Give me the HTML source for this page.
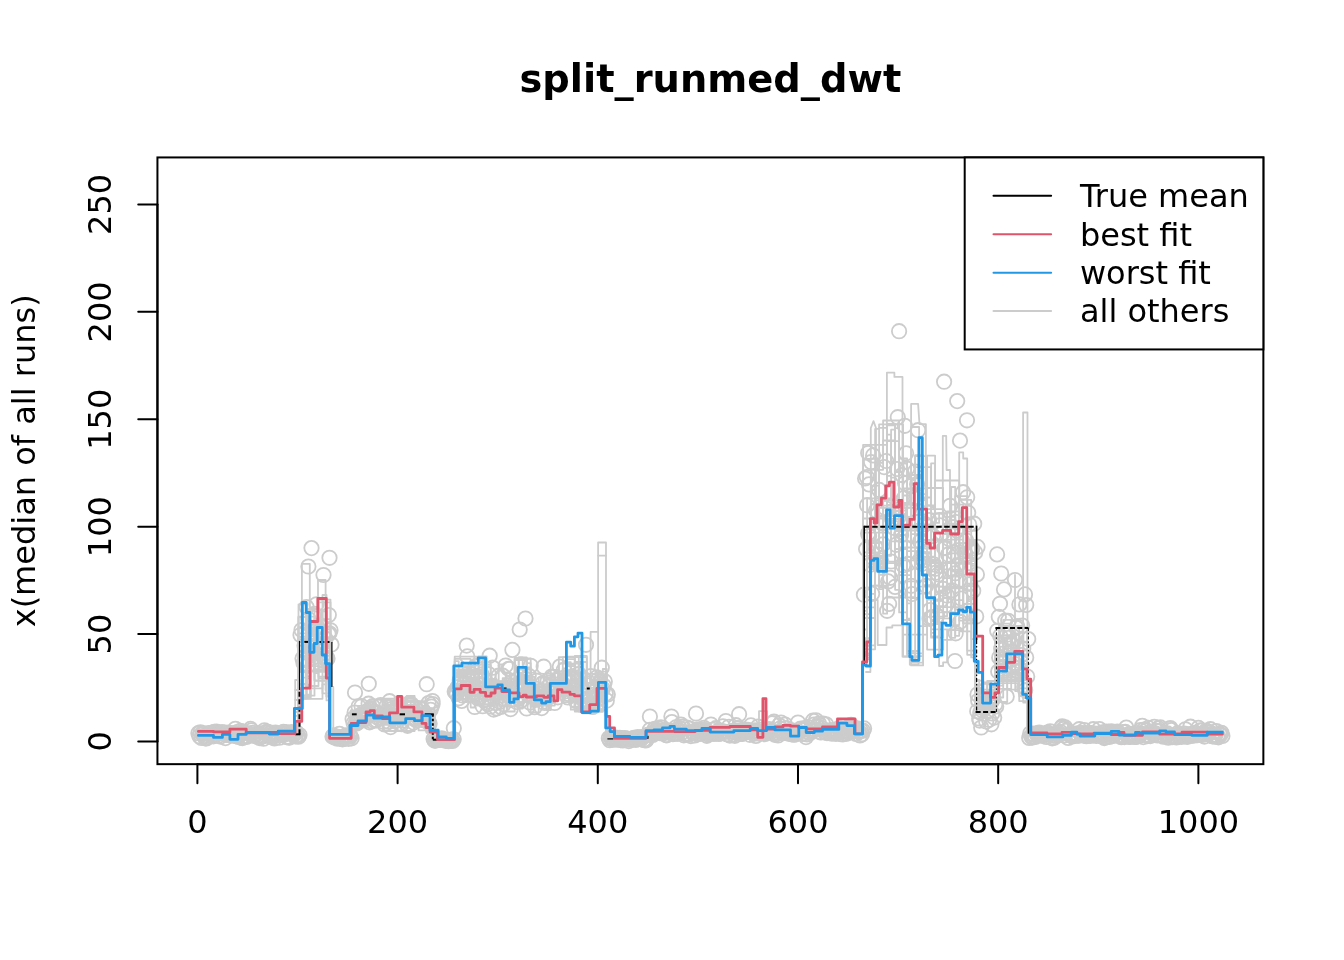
<!DOCTYPE html>
<html><head><meta charset="utf-8"><title>split_runmed_dwt</title>
<style>
html,body{margin:0;padding:0;background:#fff;}
svg{display:block}
text{font-family:"DejaVu Sans","Liberation Sans",sans-serif;fill:#000}
.t{font-size:32px}
.g{fill:none;stroke:#cccccc;stroke-width:1.8;stroke-linejoin:round;stroke-linecap:round}
</style></head><body>
<svg width="1344" height="960" viewBox="0 0 1344 960">
<rect width="1344" height="960" fill="#fff"/>
<g fill="none" stroke="#cccccc" stroke-width="1.8"><circle cx="198.4" cy="733.2" r="7.2"/><circle cx="199.4" cy="736.3" r="7.2"/><circle cx="200.4" cy="732.4" r="7.2"/><circle cx="201.4" cy="738.0" r="7.2"/><circle cx="202.4" cy="733.3" r="7.2"/><circle cx="203.4" cy="733.7" r="7.2"/><circle cx="204.4" cy="735.9" r="7.2"/><circle cx="205.4" cy="738.3" r="7.2"/><circle cx="206.4" cy="738.4" r="7.2"/><circle cx="207.4" cy="737.0" r="7.2"/><circle cx="208.4" cy="733.1" r="7.2"/><circle cx="209.4" cy="734.0" r="7.2"/><circle cx="210.4" cy="733.5" r="7.2"/><circle cx="211.4" cy="736.1" r="7.2"/><circle cx="212.4" cy="732.5" r="7.2"/><circle cx="213.4" cy="736.3" r="7.2"/><circle cx="214.4" cy="731.8" r="7.2"/><circle cx="215.4" cy="732.1" r="7.2"/><circle cx="216.4" cy="731.5" r="7.2"/><circle cx="217.4" cy="732.8" r="7.2"/><circle cx="218.4" cy="735.7" r="7.2"/><circle cx="219.4" cy="733.5" r="7.2"/><circle cx="220.4" cy="736.6" r="7.2"/><circle cx="221.4" cy="732.3" r="7.2"/><circle cx="222.4" cy="732.4" r="7.2"/><circle cx="223.4" cy="733.0" r="7.2"/><circle cx="224.4" cy="732.5" r="7.2"/><circle cx="225.4" cy="738.1" r="7.2"/><circle cx="226.4" cy="734.9" r="7.2"/><circle cx="227.4" cy="735.0" r="7.2"/><circle cx="228.4" cy="732.7" r="7.2"/><circle cx="229.4" cy="734.2" r="7.2"/><circle cx="230.4" cy="733.3" r="7.2"/><circle cx="231.4" cy="735.5" r="7.2"/><circle cx="232.4" cy="733.8" r="7.2"/><circle cx="233.4" cy="735.6" r="7.2"/><circle cx="234.4" cy="733.0" r="7.2"/><circle cx="235.4" cy="728.8" r="7.2"/><circle cx="236.4" cy="736.0" r="7.2"/><circle cx="237.4" cy="732.0" r="7.2"/><circle cx="238.4" cy="736.9" r="7.2"/><circle cx="239.4" cy="735.0" r="7.2"/><circle cx="240.4" cy="730.8" r="7.2"/><circle cx="241.4" cy="737.8" r="7.2"/><circle cx="242.4" cy="738.1" r="7.2"/><circle cx="243.4" cy="731.8" r="7.2"/><circle cx="244.4" cy="732.7" r="7.2"/><circle cx="245.4" cy="736.6" r="7.2"/><circle cx="246.4" cy="737.0" r="7.2"/><circle cx="247.4" cy="736.1" r="7.2"/><circle cx="248.4" cy="733.6" r="7.2"/><circle cx="249.5" cy="734.0" r="7.2"/><circle cx="250.5" cy="728.9" r="7.2"/><circle cx="251.5" cy="730.4" r="7.2"/><circle cx="252.5" cy="732.9" r="7.2"/><circle cx="253.5" cy="735.8" r="7.2"/><circle cx="254.5" cy="734.9" r="7.2"/><circle cx="255.5" cy="734.8" r="7.2"/><circle cx="256.5" cy="733.8" r="7.2"/><circle cx="257.5" cy="736.1" r="7.2"/><circle cx="258.5" cy="733.1" r="7.2"/><circle cx="259.5" cy="738.1" r="7.2"/><circle cx="260.5" cy="736.8" r="7.2"/><circle cx="261.5" cy="735.1" r="7.2"/><circle cx="262.5" cy="736.4" r="7.2"/><circle cx="263.5" cy="738.7" r="7.2"/><circle cx="264.5" cy="730.3" r="7.2"/><circle cx="265.5" cy="733.0" r="7.2"/><circle cx="266.5" cy="731.8" r="7.2"/><circle cx="267.5" cy="731.8" r="7.2"/><circle cx="268.5" cy="735.9" r="7.2"/><circle cx="269.5" cy="733.8" r="7.2"/><circle cx="270.5" cy="732.7" r="7.2"/><circle cx="271.5" cy="736.2" r="7.2"/><circle cx="272.5" cy="737.4" r="7.2"/><circle cx="273.5" cy="734.9" r="7.2"/><circle cx="274.5" cy="738.5" r="7.2"/><circle cx="275.5" cy="732.6" r="7.2"/><circle cx="276.5" cy="733.8" r="7.2"/><circle cx="277.5" cy="734.7" r="7.2"/><circle cx="278.5" cy="734.8" r="7.2"/><circle cx="279.5" cy="737.7" r="7.2"/><circle cx="280.5" cy="733.6" r="7.2"/><circle cx="281.5" cy="734.5" r="7.2"/><circle cx="282.5" cy="733.3" r="7.2"/><circle cx="283.5" cy="731.9" r="7.2"/><circle cx="284.5" cy="734.6" r="7.2"/><circle cx="285.5" cy="732.1" r="7.2"/><circle cx="286.5" cy="737.1" r="7.2"/><circle cx="287.5" cy="736.7" r="7.2"/><circle cx="288.5" cy="737.5" r="7.2"/><circle cx="289.5" cy="737.6" r="7.2"/><circle cx="290.5" cy="733.0" r="7.2"/><circle cx="291.5" cy="732.2" r="7.2"/><circle cx="292.5" cy="733.7" r="7.2"/><circle cx="293.5" cy="735.2" r="7.2"/><circle cx="294.5" cy="733.5" r="7.2"/><circle cx="295.5" cy="736.4" r="7.2"/><circle cx="296.5" cy="732.5" r="7.2"/><circle cx="297.5" cy="736.0" r="7.2"/><circle cx="298.5" cy="736.7" r="7.2"/><circle cx="299.5" cy="735.0" r="7.2"/><circle cx="300.5" cy="635.0" r="7.2"/><circle cx="301.5" cy="630.0" r="7.2"/><circle cx="302.5" cy="658.6" r="7.2"/><circle cx="303.5" cy="663.2" r="7.2"/><circle cx="304.5" cy="645.4" r="7.2"/><circle cx="305.5" cy="660.1" r="7.2"/><circle cx="306.5" cy="607.1" r="7.2"/><circle cx="307.5" cy="665.8" r="7.2"/><circle cx="308.5" cy="619.1" r="7.2"/><circle cx="309.5" cy="634.6" r="7.2"/><circle cx="310.5" cy="653.1" r="7.2"/><circle cx="311.5" cy="647.0" r="7.2"/><circle cx="312.5" cy="657.9" r="7.2"/><circle cx="313.5" cy="615.4" r="7.2"/><circle cx="314.5" cy="613.8" r="7.2"/><circle cx="315.5" cy="627.7" r="7.2"/><circle cx="316.5" cy="604.3" r="7.2"/><circle cx="317.5" cy="627.6" r="7.2"/><circle cx="318.5" cy="649.2" r="7.2"/><circle cx="319.5" cy="631.7" r="7.2"/><circle cx="320.5" cy="631.5" r="7.2"/><circle cx="321.5" cy="644.2" r="7.2"/><circle cx="322.5" cy="656.2" r="7.2"/><circle cx="323.5" cy="646.6" r="7.2"/><circle cx="324.5" cy="658.3" r="7.2"/><circle cx="325.5" cy="638.8" r="7.2"/><circle cx="326.5" cy="657.4" r="7.2"/><circle cx="327.5" cy="658.4" r="7.2"/><circle cx="328.5" cy="634.1" r="7.2"/><circle cx="329.5" cy="633.3" r="7.2"/><circle cx="330.5" cy="630.3" r="7.2"/><circle cx="331.5" cy="644.6" r="7.2"/><circle cx="332.5" cy="736.4" r="7.2"/><circle cx="333.5" cy="735.4" r="7.2"/><circle cx="334.5" cy="737.6" r="7.2"/><circle cx="335.5" cy="736.8" r="7.2"/><circle cx="336.5" cy="737.3" r="7.2"/><circle cx="337.5" cy="738.7" r="7.2"/><circle cx="338.5" cy="736.9" r="7.2"/><circle cx="339.5" cy="733.8" r="7.2"/><circle cx="340.5" cy="738.3" r="7.2"/><circle cx="341.5" cy="738.7" r="7.2"/><circle cx="342.5" cy="739.3" r="7.2"/><circle cx="343.5" cy="738.9" r="7.2"/><circle cx="344.5" cy="737.2" r="7.2"/><circle cx="345.5" cy="735.6" r="7.2"/><circle cx="346.5" cy="736.8" r="7.2"/><circle cx="347.5" cy="735.4" r="7.2"/><circle cx="348.5" cy="738.8" r="7.2"/><circle cx="349.5" cy="735.8" r="7.2"/><circle cx="350.5" cy="736.3" r="7.2"/><circle cx="351.6" cy="738.3" r="7.2"/><circle cx="352.6" cy="719.1" r="7.2"/><circle cx="353.6" cy="723.2" r="7.2"/><circle cx="354.6" cy="712.5" r="7.2"/><circle cx="355.6" cy="723.4" r="7.2"/><circle cx="356.6" cy="723.4" r="7.2"/><circle cx="357.6" cy="722.6" r="7.2"/><circle cx="358.6" cy="706.4" r="7.2"/><circle cx="359.6" cy="717.8" r="7.2"/><circle cx="360.6" cy="714.8" r="7.2"/><circle cx="361.6" cy="706.2" r="7.2"/><circle cx="362.6" cy="714.3" r="7.2"/><circle cx="363.6" cy="720.2" r="7.2"/><circle cx="364.6" cy="719.2" r="7.2"/><circle cx="365.6" cy="714.1" r="7.2"/><circle cx="366.6" cy="715.9" r="7.2"/><circle cx="367.6" cy="710.7" r="7.2"/><circle cx="368.6" cy="703.7" r="7.2"/><circle cx="369.6" cy="722.3" r="7.2"/><circle cx="370.6" cy="708.3" r="7.2"/><circle cx="371.6" cy="721.2" r="7.2"/><circle cx="372.6" cy="706.2" r="7.2"/><circle cx="373.6" cy="712.4" r="7.2"/><circle cx="374.6" cy="720.5" r="7.2"/><circle cx="375.6" cy="712.1" r="7.2"/><circle cx="376.6" cy="720.3" r="7.2"/><circle cx="377.6" cy="717.5" r="7.2"/><circle cx="378.6" cy="706.8" r="7.2"/><circle cx="379.6" cy="706.2" r="7.2"/><circle cx="380.6" cy="705.0" r="7.2"/><circle cx="381.6" cy="714.6" r="7.2"/><circle cx="382.6" cy="715.6" r="7.2"/><circle cx="383.6" cy="721.7" r="7.2"/><circle cx="384.6" cy="724.5" r="7.2"/><circle cx="385.6" cy="716.0" r="7.2"/><circle cx="386.6" cy="706.0" r="7.2"/><circle cx="387.6" cy="716.0" r="7.2"/><circle cx="388.6" cy="721.8" r="7.2"/><circle cx="389.6" cy="701.2" r="7.2"/><circle cx="390.6" cy="727.1" r="7.2"/><circle cx="391.6" cy="709.0" r="7.2"/><circle cx="392.6" cy="711.7" r="7.2"/><circle cx="393.6" cy="712.3" r="7.2"/><circle cx="394.6" cy="721.2" r="7.2"/><circle cx="395.6" cy="715.9" r="7.2"/><circle cx="396.6" cy="711.3" r="7.2"/><circle cx="397.6" cy="709.8" r="7.2"/><circle cx="398.6" cy="706.0" r="7.2"/><circle cx="399.6" cy="723.4" r="7.2"/><circle cx="400.6" cy="714.6" r="7.2"/><circle cx="401.6" cy="724.2" r="7.2"/><circle cx="402.6" cy="711.6" r="7.2"/><circle cx="403.6" cy="712.8" r="7.2"/><circle cx="404.6" cy="715.8" r="7.2"/><circle cx="405.6" cy="712.9" r="7.2"/><circle cx="406.6" cy="715.0" r="7.2"/><circle cx="407.6" cy="725.8" r="7.2"/><circle cx="408.6" cy="703.7" r="7.2"/><circle cx="409.6" cy="708.5" r="7.2"/><circle cx="410.6" cy="705.0" r="7.2"/><circle cx="411.6" cy="704.4" r="7.2"/><circle cx="412.6" cy="707.6" r="7.2"/><circle cx="413.6" cy="722.6" r="7.2"/><circle cx="414.6" cy="717.7" r="7.2"/><circle cx="415.6" cy="719.1" r="7.2"/><circle cx="416.6" cy="720.6" r="7.2"/><circle cx="417.6" cy="716.3" r="7.2"/><circle cx="418.6" cy="718.0" r="7.2"/><circle cx="419.6" cy="711.8" r="7.2"/><circle cx="420.6" cy="714.5" r="7.2"/><circle cx="421.6" cy="715.0" r="7.2"/><circle cx="422.6" cy="709.7" r="7.2"/><circle cx="423.6" cy="714.2" r="7.2"/><circle cx="424.6" cy="720.6" r="7.2"/><circle cx="425.6" cy="716.5" r="7.2"/><circle cx="426.6" cy="719.8" r="7.2"/><circle cx="427.6" cy="719.5" r="7.2"/><circle cx="428.6" cy="703.1" r="7.2"/><circle cx="429.6" cy="723.4" r="7.2"/><circle cx="430.6" cy="709.8" r="7.2"/><circle cx="431.6" cy="706.6" r="7.2"/><circle cx="432.6" cy="704.0" r="7.2"/><circle cx="433.6" cy="739.1" r="7.2"/><circle cx="434.6" cy="740.6" r="7.2"/><circle cx="435.6" cy="740.6" r="7.2"/><circle cx="436.6" cy="739.2" r="7.2"/><circle cx="437.6" cy="739.5" r="7.2"/><circle cx="438.6" cy="739.9" r="7.2"/><circle cx="439.6" cy="739.8" r="7.2"/><circle cx="440.6" cy="739.6" r="7.2"/><circle cx="441.6" cy="738.4" r="7.2"/><circle cx="442.6" cy="739.2" r="7.2"/><circle cx="443.6" cy="739.8" r="7.2"/><circle cx="444.6" cy="739.6" r="7.2"/><circle cx="445.6" cy="740.8" r="7.2"/><circle cx="446.6" cy="740.0" r="7.2"/><circle cx="447.6" cy="739.8" r="7.2"/><circle cx="448.6" cy="741.2" r="7.2"/><circle cx="449.6" cy="740.8" r="7.2"/><circle cx="450.6" cy="741.0" r="7.2"/><circle cx="451.6" cy="739.5" r="7.2"/><circle cx="452.6" cy="740.9" r="7.2"/><circle cx="453.7" cy="739.3" r="7.2"/><circle cx="454.7" cy="691.5" r="7.2"/><circle cx="455.7" cy="692.5" r="7.2"/><circle cx="456.7" cy="693.8" r="7.2"/><circle cx="457.7" cy="687.1" r="7.2"/><circle cx="458.7" cy="698.3" r="7.2"/><circle cx="459.7" cy="680.2" r="7.2"/><circle cx="460.7" cy="678.3" r="7.2"/><circle cx="461.7" cy="700.9" r="7.2"/><circle cx="462.7" cy="695.5" r="7.2"/><circle cx="463.7" cy="691.8" r="7.2"/><circle cx="464.7" cy="682.8" r="7.2"/><circle cx="465.7" cy="688.0" r="7.2"/><circle cx="466.7" cy="687.0" r="7.2"/><circle cx="467.7" cy="679.6" r="7.2"/><circle cx="468.7" cy="683.8" r="7.2"/><circle cx="469.7" cy="687.8" r="7.2"/><circle cx="470.7" cy="685.7" r="7.2"/><circle cx="471.7" cy="674.2" r="7.2"/><circle cx="472.7" cy="692.7" r="7.2"/><circle cx="473.7" cy="688.2" r="7.2"/><circle cx="474.7" cy="707.0" r="7.2"/><circle cx="475.7" cy="666.0" r="7.2"/><circle cx="476.7" cy="687.2" r="7.2"/><circle cx="477.7" cy="698.3" r="7.2"/><circle cx="478.7" cy="683.8" r="7.2"/><circle cx="479.7" cy="697.9" r="7.2"/><circle cx="480.7" cy="680.0" r="7.2"/><circle cx="481.7" cy="674.4" r="7.2"/><circle cx="482.7" cy="706.2" r="7.2"/><circle cx="483.7" cy="700.3" r="7.2"/><circle cx="484.7" cy="679.4" r="7.2"/><circle cx="485.7" cy="702.1" r="7.2"/><circle cx="486.7" cy="691.0" r="7.2"/><circle cx="487.7" cy="704.3" r="7.2"/><circle cx="488.7" cy="674.2" r="7.2"/><circle cx="489.7" cy="688.2" r="7.2"/><circle cx="490.7" cy="706.5" r="7.2"/><circle cx="491.7" cy="685.8" r="7.2"/><circle cx="492.7" cy="667.7" r="7.2"/><circle cx="493.7" cy="709.6" r="7.2"/><circle cx="494.7" cy="691.2" r="7.2"/><circle cx="495.7" cy="702.9" r="7.2"/><circle cx="496.7" cy="708.4" r="7.2"/><circle cx="497.7" cy="693.2" r="7.2"/><circle cx="498.7" cy="675.7" r="7.2"/><circle cx="499.7" cy="701.7" r="7.2"/><circle cx="500.7" cy="706.9" r="7.2"/><circle cx="501.7" cy="695.1" r="7.2"/><circle cx="502.7" cy="675.7" r="7.2"/><circle cx="503.7" cy="704.2" r="7.2"/><circle cx="504.7" cy="699.1" r="7.2"/><circle cx="505.7" cy="665.5" r="7.2"/><circle cx="506.7" cy="691.5" r="7.2"/><circle cx="507.7" cy="689.3" r="7.2"/><circle cx="508.7" cy="668.8" r="7.2"/><circle cx="509.7" cy="668.9" r="7.2"/><circle cx="510.7" cy="709.1" r="7.2"/><circle cx="511.7" cy="699.7" r="7.2"/><circle cx="512.7" cy="690.4" r="7.2"/><circle cx="513.7" cy="692.7" r="7.2"/><circle cx="514.7" cy="686.2" r="7.2"/><circle cx="515.7" cy="688.9" r="7.2"/><circle cx="516.7" cy="702.0" r="7.2"/><circle cx="517.7" cy="686.6" r="7.2"/><circle cx="518.7" cy="698.5" r="7.2"/><circle cx="519.7" cy="685.7" r="7.2"/><circle cx="520.7" cy="700.9" r="7.2"/><circle cx="521.7" cy="690.9" r="7.2"/><circle cx="522.7" cy="688.3" r="7.2"/><circle cx="523.7" cy="682.1" r="7.2"/><circle cx="524.7" cy="685.9" r="7.2"/><circle cx="525.7" cy="679.0" r="7.2"/><circle cx="526.7" cy="708.5" r="7.2"/><circle cx="527.7" cy="693.9" r="7.2"/><circle cx="528.7" cy="675.8" r="7.2"/><circle cx="529.7" cy="702.5" r="7.2"/><circle cx="530.7" cy="665.8" r="7.2"/><circle cx="531.7" cy="695.2" r="7.2"/><circle cx="532.7" cy="696.8" r="7.2"/><circle cx="533.7" cy="692.2" r="7.2"/><circle cx="534.7" cy="707.2" r="7.2"/><circle cx="535.7" cy="688.6" r="7.2"/><circle cx="536.7" cy="680.7" r="7.2"/><circle cx="537.7" cy="698.9" r="7.2"/><circle cx="538.7" cy="693.4" r="7.2"/><circle cx="539.7" cy="691.0" r="7.2"/><circle cx="540.7" cy="693.7" r="7.2"/><circle cx="541.7" cy="708.1" r="7.2"/><circle cx="542.7" cy="683.3" r="7.2"/><circle cx="543.7" cy="666.7" r="7.2"/><circle cx="544.7" cy="703.0" r="7.2"/><circle cx="545.7" cy="695.4" r="7.2"/><circle cx="546.7" cy="698.2" r="7.2"/><circle cx="547.7" cy="680.6" r="7.2"/><circle cx="548.7" cy="686.1" r="7.2"/><circle cx="549.7" cy="692.1" r="7.2"/><circle cx="550.7" cy="692.5" r="7.2"/><circle cx="551.7" cy="676.5" r="7.2"/><circle cx="552.7" cy="693.9" r="7.2"/><circle cx="553.7" cy="691.9" r="7.2"/><circle cx="554.7" cy="703.0" r="7.2"/><circle cx="555.7" cy="687.3" r="7.2"/><circle cx="556.8" cy="680.3" r="7.2"/><circle cx="557.8" cy="697.3" r="7.2"/><circle cx="558.8" cy="678.4" r="7.2"/><circle cx="559.8" cy="666.6" r="7.2"/><circle cx="560.8" cy="685.6" r="7.2"/><circle cx="561.8" cy="685.9" r="7.2"/><circle cx="562.8" cy="683.8" r="7.2"/><circle cx="563.8" cy="669.9" r="7.2"/><circle cx="564.8" cy="677.4" r="7.2"/><circle cx="565.8" cy="681.5" r="7.2"/><circle cx="566.8" cy="691.1" r="7.2"/><circle cx="567.8" cy="697.4" r="7.2"/><circle cx="568.8" cy="694.0" r="7.2"/><circle cx="569.8" cy="682.2" r="7.2"/><circle cx="570.8" cy="689.9" r="7.2"/><circle cx="571.8" cy="676.7" r="7.2"/><circle cx="572.8" cy="687.1" r="7.2"/><circle cx="573.8" cy="678.8" r="7.2"/><circle cx="574.8" cy="695.0" r="7.2"/><circle cx="575.8" cy="701.0" r="7.2"/><circle cx="576.8" cy="695.8" r="7.2"/><circle cx="577.8" cy="680.9" r="7.2"/><circle cx="578.8" cy="674.1" r="7.2"/><circle cx="579.8" cy="697.2" r="7.2"/><circle cx="580.8" cy="694.5" r="7.2"/><circle cx="581.8" cy="688.7" r="7.2"/><circle cx="582.8" cy="695.4" r="7.2"/><circle cx="583.8" cy="678.9" r="7.2"/><circle cx="584.8" cy="699.2" r="7.2"/><circle cx="585.8" cy="705.4" r="7.2"/><circle cx="586.8" cy="699.5" r="7.2"/><circle cx="587.8" cy="685.3" r="7.2"/><circle cx="588.8" cy="704.5" r="7.2"/><circle cx="589.8" cy="683.4" r="7.2"/><circle cx="590.8" cy="676.1" r="7.2"/><circle cx="591.8" cy="680.8" r="7.2"/><circle cx="592.8" cy="706.9" r="7.2"/><circle cx="593.8" cy="700.4" r="7.2"/><circle cx="594.8" cy="691.3" r="7.2"/><circle cx="595.8" cy="696.8" r="7.2"/><circle cx="596.8" cy="677.4" r="7.2"/><circle cx="597.8" cy="679.9" r="7.2"/><circle cx="598.8" cy="694.8" r="7.2"/><circle cx="599.8" cy="681.6" r="7.2"/><circle cx="600.8" cy="690.8" r="7.2"/><circle cx="601.8" cy="667.7" r="7.2"/><circle cx="602.8" cy="688.8" r="7.2"/><circle cx="603.8" cy="685.8" r="7.2"/><circle cx="604.8" cy="681.4" r="7.2"/><circle cx="605.8" cy="693.8" r="7.2"/><circle cx="606.8" cy="700.6" r="7.2"/><circle cx="607.8" cy="694.4" r="7.2"/><circle cx="608.8" cy="738.2" r="7.2"/><circle cx="609.8" cy="740.2" r="7.2"/><circle cx="610.8" cy="737.7" r="7.2"/><circle cx="611.8" cy="739.3" r="7.2"/><circle cx="612.8" cy="737.7" r="7.2"/><circle cx="613.8" cy="739.6" r="7.2"/><circle cx="614.8" cy="738.0" r="7.2"/><circle cx="615.8" cy="737.7" r="7.2"/><circle cx="616.8" cy="739.7" r="7.2"/><circle cx="617.8" cy="739.1" r="7.2"/><circle cx="618.8" cy="738.1" r="7.2"/><circle cx="619.8" cy="737.9" r="7.2"/><circle cx="620.8" cy="740.1" r="7.2"/><circle cx="621.8" cy="738.1" r="7.2"/><circle cx="622.8" cy="740.4" r="7.2"/><circle cx="623.8" cy="739.8" r="7.2"/><circle cx="624.8" cy="738.1" r="7.2"/><circle cx="625.8" cy="739.1" r="7.2"/><circle cx="626.8" cy="738.7" r="7.2"/><circle cx="627.8" cy="739.5" r="7.2"/><circle cx="628.8" cy="741.1" r="7.2"/><circle cx="629.8" cy="739.1" r="7.2"/><circle cx="630.8" cy="739.7" r="7.2"/><circle cx="631.8" cy="738.8" r="7.2"/><circle cx="632.8" cy="739.3" r="7.2"/><circle cx="633.8" cy="737.9" r="7.2"/><circle cx="634.8" cy="739.2" r="7.2"/><circle cx="635.8" cy="739.9" r="7.2"/><circle cx="636.8" cy="738.7" r="7.2"/><circle cx="637.8" cy="737.2" r="7.2"/><circle cx="638.8" cy="738.4" r="7.2"/><circle cx="639.8" cy="738.8" r="7.2"/><circle cx="640.8" cy="739.2" r="7.2"/><circle cx="641.8" cy="738.1" r="7.2"/><circle cx="642.8" cy="736.9" r="7.2"/><circle cx="643.8" cy="739.9" r="7.2"/><circle cx="644.8" cy="740.1" r="7.2"/><circle cx="645.8" cy="740.5" r="7.2"/><circle cx="646.8" cy="739.2" r="7.2"/><circle cx="647.8" cy="734.9" r="7.2"/><circle cx="648.8" cy="734.7" r="7.2"/><circle cx="649.8" cy="729.9" r="7.2"/><circle cx="650.8" cy="734.8" r="7.2"/><circle cx="651.8" cy="734.2" r="7.2"/><circle cx="652.8" cy="734.9" r="7.2"/><circle cx="653.8" cy="732.2" r="7.2"/><circle cx="654.8" cy="728.8" r="7.2"/><circle cx="655.8" cy="730.5" r="7.2"/><circle cx="656.8" cy="731.5" r="7.2"/><circle cx="657.8" cy="732.0" r="7.2"/><circle cx="658.9" cy="728.6" r="7.2"/><circle cx="659.9" cy="733.1" r="7.2"/><circle cx="660.9" cy="727.3" r="7.2"/><circle cx="661.9" cy="730.6" r="7.2"/><circle cx="662.9" cy="733.5" r="7.2"/><circle cx="663.9" cy="730.8" r="7.2"/><circle cx="664.9" cy="732.1" r="7.2"/><circle cx="665.9" cy="735.1" r="7.2"/><circle cx="666.9" cy="735.3" r="7.2"/><circle cx="667.9" cy="732.3" r="7.2"/><circle cx="668.9" cy="731.0" r="7.2"/><circle cx="669.9" cy="731.6" r="7.2"/><circle cx="670.9" cy="732.8" r="7.2"/><circle cx="671.9" cy="722.1" r="7.2"/><circle cx="672.9" cy="734.2" r="7.2"/><circle cx="673.9" cy="733.2" r="7.2"/><circle cx="674.9" cy="733.1" r="7.2"/><circle cx="675.9" cy="727.4" r="7.2"/><circle cx="676.9" cy="733.3" r="7.2"/><circle cx="677.9" cy="733.8" r="7.2"/><circle cx="678.9" cy="730.7" r="7.2"/><circle cx="679.9" cy="728.4" r="7.2"/><circle cx="680.9" cy="724.5" r="7.2"/><circle cx="681.9" cy="732.5" r="7.2"/><circle cx="682.9" cy="726.7" r="7.2"/><circle cx="683.9" cy="735.3" r="7.2"/><circle cx="684.9" cy="734.1" r="7.2"/><circle cx="685.9" cy="733.8" r="7.2"/><circle cx="686.9" cy="727.5" r="7.2"/><circle cx="687.9" cy="734.9" r="7.2"/><circle cx="688.9" cy="733.9" r="7.2"/><circle cx="689.9" cy="728.5" r="7.2"/><circle cx="690.9" cy="736.1" r="7.2"/><circle cx="691.9" cy="732.1" r="7.2"/><circle cx="692.9" cy="732.2" r="7.2"/><circle cx="693.9" cy="732.8" r="7.2"/><circle cx="694.9" cy="735.4" r="7.2"/><circle cx="695.9" cy="731.6" r="7.2"/><circle cx="696.9" cy="729.7" r="7.2"/><circle cx="697.9" cy="734.0" r="7.2"/><circle cx="698.9" cy="729.7" r="7.2"/><circle cx="699.9" cy="733.0" r="7.2"/><circle cx="700.9" cy="733.7" r="7.2"/><circle cx="701.9" cy="729.6" r="7.2"/><circle cx="702.9" cy="731.5" r="7.2"/><circle cx="703.9" cy="727.8" r="7.2"/><circle cx="704.9" cy="731.4" r="7.2"/><circle cx="705.9" cy="730.1" r="7.2"/><circle cx="706.9" cy="735.8" r="7.2"/><circle cx="707.9" cy="734.5" r="7.2"/><circle cx="708.9" cy="733.4" r="7.2"/><circle cx="709.9" cy="733.5" r="7.2"/><circle cx="710.9" cy="724.5" r="7.2"/><circle cx="711.9" cy="733.2" r="7.2"/><circle cx="712.9" cy="729.9" r="7.2"/><circle cx="713.9" cy="733.8" r="7.2"/><circle cx="714.9" cy="733.4" r="7.2"/><circle cx="715.9" cy="728.2" r="7.2"/><circle cx="716.9" cy="733.4" r="7.2"/><circle cx="717.9" cy="731.0" r="7.2"/><circle cx="718.9" cy="734.0" r="7.2"/><circle cx="719.9" cy="733.6" r="7.2"/><circle cx="720.9" cy="732.4" r="7.2"/><circle cx="721.9" cy="731.3" r="7.2"/><circle cx="722.9" cy="726.4" r="7.2"/><circle cx="723.9" cy="731.7" r="7.2"/><circle cx="724.9" cy="732.0" r="7.2"/><circle cx="725.9" cy="721.0" r="7.2"/><circle cx="726.9" cy="734.2" r="7.2"/><circle cx="727.9" cy="734.5" r="7.2"/><circle cx="728.9" cy="726.8" r="7.2"/><circle cx="729.9" cy="735.6" r="7.2"/><circle cx="730.9" cy="731.3" r="7.2"/><circle cx="731.9" cy="731.3" r="7.2"/><circle cx="732.9" cy="731.2" r="7.2"/><circle cx="733.9" cy="734.6" r="7.2"/><circle cx="734.9" cy="735.8" r="7.2"/><circle cx="735.9" cy="725.2" r="7.2"/><circle cx="736.9" cy="730.7" r="7.2"/><circle cx="737.9" cy="728.2" r="7.2"/><circle cx="738.9" cy="733.5" r="7.2"/><circle cx="739.9" cy="730.5" r="7.2"/><circle cx="740.9" cy="733.9" r="7.2"/><circle cx="741.9" cy="733.9" r="7.2"/><circle cx="742.9" cy="732.9" r="7.2"/><circle cx="743.9" cy="729.4" r="7.2"/><circle cx="744.9" cy="732.3" r="7.2"/><circle cx="745.9" cy="730.0" r="7.2"/><circle cx="746.9" cy="731.9" r="7.2"/><circle cx="747.9" cy="729.8" r="7.2"/><circle cx="748.9" cy="731.6" r="7.2"/><circle cx="749.9" cy="734.8" r="7.2"/><circle cx="750.9" cy="725.4" r="7.2"/><circle cx="751.9" cy="732.0" r="7.2"/><circle cx="752.9" cy="733.2" r="7.2"/><circle cx="753.9" cy="733.8" r="7.2"/><circle cx="754.9" cy="730.4" r="7.2"/><circle cx="755.9" cy="735.9" r="7.2"/><circle cx="756.9" cy="731.2" r="7.2"/><circle cx="757.9" cy="726.7" r="7.2"/><circle cx="758.9" cy="733.6" r="7.2"/><circle cx="759.9" cy="732.8" r="7.2"/><circle cx="761.0" cy="729.8" r="7.2"/><circle cx="762.0" cy="731.6" r="7.2"/><circle cx="763.0" cy="731.7" r="7.2"/><circle cx="764.0" cy="733.5" r="7.2"/><circle cx="765.0" cy="734.1" r="7.2"/><circle cx="766.0" cy="732.6" r="7.2"/><circle cx="767.0" cy="732.9" r="7.2"/><circle cx="768.0" cy="730.1" r="7.2"/><circle cx="769.0" cy="729.1" r="7.2"/><circle cx="770.0" cy="731.8" r="7.2"/><circle cx="771.0" cy="731.9" r="7.2"/><circle cx="772.0" cy="723.2" r="7.2"/><circle cx="773.0" cy="733.5" r="7.2"/><circle cx="774.0" cy="721.7" r="7.2"/><circle cx="775.0" cy="734.8" r="7.2"/><circle cx="776.0" cy="732.1" r="7.2"/><circle cx="777.0" cy="733.9" r="7.2"/><circle cx="778.0" cy="735.5" r="7.2"/><circle cx="779.0" cy="725.3" r="7.2"/><circle cx="780.0" cy="728.5" r="7.2"/><circle cx="781.0" cy="722.5" r="7.2"/><circle cx="782.0" cy="732.6" r="7.2"/><circle cx="783.0" cy="732.6" r="7.2"/><circle cx="784.0" cy="733.0" r="7.2"/><circle cx="785.0" cy="724.5" r="7.2"/><circle cx="786.0" cy="728.0" r="7.2"/><circle cx="787.0" cy="731.1" r="7.2"/><circle cx="788.0" cy="731.4" r="7.2"/><circle cx="789.0" cy="733.8" r="7.2"/><circle cx="790.0" cy="733.1" r="7.2"/><circle cx="791.0" cy="730.0" r="7.2"/><circle cx="792.0" cy="734.3" r="7.2"/><circle cx="793.0" cy="731.1" r="7.2"/><circle cx="794.0" cy="734.7" r="7.2"/><circle cx="795.0" cy="734.5" r="7.2"/><circle cx="796.0" cy="733.7" r="7.2"/><circle cx="797.0" cy="733.0" r="7.2"/><circle cx="798.0" cy="722.5" r="7.2"/><circle cx="799.0" cy="732.2" r="7.2"/><circle cx="800.0" cy="729.2" r="7.2"/><circle cx="801.0" cy="728.7" r="7.2"/><circle cx="802.0" cy="734.0" r="7.2"/><circle cx="803.0" cy="733.4" r="7.2"/><circle cx="804.0" cy="729.2" r="7.2"/><circle cx="805.0" cy="728.0" r="7.2"/><circle cx="806.0" cy="737.1" r="7.2"/><circle cx="807.0" cy="734.4" r="7.2"/><circle cx="808.0" cy="727.1" r="7.2"/><circle cx="809.0" cy="732.6" r="7.2"/><circle cx="810.0" cy="733.0" r="7.2"/><circle cx="811.0" cy="731.3" r="7.2"/><circle cx="812.0" cy="730.3" r="7.2"/><circle cx="813.0" cy="720.7" r="7.2"/><circle cx="814.0" cy="724.5" r="7.2"/><circle cx="815.0" cy="729.7" r="7.2"/><circle cx="816.0" cy="720.3" r="7.2"/><circle cx="817.0" cy="726.0" r="7.2"/><circle cx="818.0" cy="727.0" r="7.2"/><circle cx="819.0" cy="723.6" r="7.2"/><circle cx="820.0" cy="732.1" r="7.2"/><circle cx="821.0" cy="732.4" r="7.2"/><circle cx="822.0" cy="728.3" r="7.2"/><circle cx="823.0" cy="723.6" r="7.2"/><circle cx="824.0" cy="731.6" r="7.2"/><circle cx="825.0" cy="732.3" r="7.2"/><circle cx="826.0" cy="724.3" r="7.2"/><circle cx="827.0" cy="733.1" r="7.2"/><circle cx="828.0" cy="731.8" r="7.2"/><circle cx="829.0" cy="731.8" r="7.2"/><circle cx="830.0" cy="730.4" r="7.2"/><circle cx="831.0" cy="730.7" r="7.2"/><circle cx="832.0" cy="733.7" r="7.2"/><circle cx="833.0" cy="732.4" r="7.2"/><circle cx="834.0" cy="731.3" r="7.2"/><circle cx="835.0" cy="731.4" r="7.2"/><circle cx="836.0" cy="733.8" r="7.2"/><circle cx="837.0" cy="730.4" r="7.2"/><circle cx="838.0" cy="732.3" r="7.2"/><circle cx="839.0" cy="728.1" r="7.2"/><circle cx="840.0" cy="729.0" r="7.2"/><circle cx="841.0" cy="734.2" r="7.2"/><circle cx="842.0" cy="731.6" r="7.2"/><circle cx="843.0" cy="734.3" r="7.2"/><circle cx="844.0" cy="728.6" r="7.2"/><circle cx="845.0" cy="730.7" r="7.2"/><circle cx="846.0" cy="733.7" r="7.2"/><circle cx="847.0" cy="733.5" r="7.2"/><circle cx="848.0" cy="731.4" r="7.2"/><circle cx="849.0" cy="727.2" r="7.2"/><circle cx="850.0" cy="731.9" r="7.2"/><circle cx="851.0" cy="724.8" r="7.2"/><circle cx="852.0" cy="730.4" r="7.2"/><circle cx="853.0" cy="730.5" r="7.2"/><circle cx="854.0" cy="728.7" r="7.2"/><circle cx="855.0" cy="730.7" r="7.2"/><circle cx="856.0" cy="734.0" r="7.2"/><circle cx="857.0" cy="728.4" r="7.2"/><circle cx="858.0" cy="731.6" r="7.2"/><circle cx="859.0" cy="732.0" r="7.2"/><circle cx="860.0" cy="735.5" r="7.2"/><circle cx="861.0" cy="730.7" r="7.2"/><circle cx="862.0" cy="734.2" r="7.2"/><circle cx="863.0" cy="730.7" r="7.2"/><circle cx="864.1" cy="728.4" r="7.2"/><circle cx="865.1" cy="478.5" r="7.2"/><circle cx="866.1" cy="549.1" r="7.2"/><circle cx="867.1" cy="505.2" r="7.2"/><circle cx="868.1" cy="533.4" r="7.2"/><circle cx="869.1" cy="536.1" r="7.2"/><circle cx="870.1" cy="564.8" r="7.2"/><circle cx="871.1" cy="462.0" r="7.2"/><circle cx="872.1" cy="593.8" r="7.2"/><circle cx="873.1" cy="455.4" r="7.2"/><circle cx="874.1" cy="562.5" r="7.2"/><circle cx="875.1" cy="547.0" r="7.2"/><circle cx="876.1" cy="510.5" r="7.2"/><circle cx="877.1" cy="562.5" r="7.2"/><circle cx="878.1" cy="554.6" r="7.2"/><circle cx="879.1" cy="489.9" r="7.2"/><circle cx="880.1" cy="564.1" r="7.2"/><circle cx="881.1" cy="560.6" r="7.2"/><circle cx="882.1" cy="523.4" r="7.2"/><circle cx="883.1" cy="544.3" r="7.2"/><circle cx="884.1" cy="467.1" r="7.2"/><circle cx="885.1" cy="508.0" r="7.2"/><circle cx="886.1" cy="461.0" r="7.2"/><circle cx="887.1" cy="610.8" r="7.2"/><circle cx="888.1" cy="581.4" r="7.2"/><circle cx="889.1" cy="603.9" r="7.2"/><circle cx="890.1" cy="577.8" r="7.2"/><circle cx="891.1" cy="561.5" r="7.2"/><circle cx="892.1" cy="519.3" r="7.2"/><circle cx="893.1" cy="520.6" r="7.2"/><circle cx="894.1" cy="527.9" r="7.2"/><circle cx="895.1" cy="586.9" r="7.2"/><circle cx="896.1" cy="544.8" r="7.2"/><circle cx="897.1" cy="469.0" r="7.2"/><circle cx="898.1" cy="518.2" r="7.2"/><circle cx="899.1" cy="512.3" r="7.2"/><circle cx="900.1" cy="508.9" r="7.2"/><circle cx="901.1" cy="535.1" r="7.2"/><circle cx="902.1" cy="475.1" r="7.2"/><circle cx="903.1" cy="565.2" r="7.2"/><circle cx="904.1" cy="497.9" r="7.2"/><circle cx="905.1" cy="483.2" r="7.2"/><circle cx="906.1" cy="453.3" r="7.2"/><circle cx="907.1" cy="468.7" r="7.2"/><circle cx="908.1" cy="563.8" r="7.2"/><circle cx="909.1" cy="509.6" r="7.2"/><circle cx="910.1" cy="486.4" r="7.2"/><circle cx="911.1" cy="585.8" r="7.2"/><circle cx="912.1" cy="594.0" r="7.2"/><circle cx="913.1" cy="535.9" r="7.2"/><circle cx="914.1" cy="497.2" r="7.2"/><circle cx="915.1" cy="471.5" r="7.2"/><circle cx="916.1" cy="498.7" r="7.2"/><circle cx="917.1" cy="484.2" r="7.2"/><circle cx="918.1" cy="562.0" r="7.2"/><circle cx="919.1" cy="521.7" r="7.2"/><circle cx="920.1" cy="541.5" r="7.2"/><circle cx="921.1" cy="558.0" r="7.2"/><circle cx="922.1" cy="563.8" r="7.2"/><circle cx="923.1" cy="560.4" r="7.2"/><circle cx="924.1" cy="553.3" r="7.2"/><circle cx="925.1" cy="524.1" r="7.2"/><circle cx="926.1" cy="585.9" r="7.2"/><circle cx="927.1" cy="535.5" r="7.2"/><circle cx="928.1" cy="512.6" r="7.2"/><circle cx="929.1" cy="520.0" r="7.2"/><circle cx="930.1" cy="610.0" r="7.2"/><circle cx="931.1" cy="617.7" r="7.2"/><circle cx="932.1" cy="617.2" r="7.2"/><circle cx="933.1" cy="536.0" r="7.2"/><circle cx="934.1" cy="564.5" r="7.2"/><circle cx="935.1" cy="568.8" r="7.2"/><circle cx="936.1" cy="572.6" r="7.2"/><circle cx="937.1" cy="615.8" r="7.2"/><circle cx="938.1" cy="574.5" r="7.2"/><circle cx="939.1" cy="520.2" r="7.2"/><circle cx="940.1" cy="525.4" r="7.2"/><circle cx="941.1" cy="600.0" r="7.2"/><circle cx="942.1" cy="533.4" r="7.2"/><circle cx="943.1" cy="588.8" r="7.2"/><circle cx="944.1" cy="547.9" r="7.2"/><circle cx="945.1" cy="548.2" r="7.2"/><circle cx="946.1" cy="605.0" r="7.2"/><circle cx="947.1" cy="595.6" r="7.2"/><circle cx="948.1" cy="554.6" r="7.2"/><circle cx="949.1" cy="539.0" r="7.2"/><circle cx="950.1" cy="505.8" r="7.2"/><circle cx="951.1" cy="568.9" r="7.2"/><circle cx="952.1" cy="590.3" r="7.2"/><circle cx="953.1" cy="527.2" r="7.2"/><circle cx="954.1" cy="552.7" r="7.2"/><circle cx="955.1" cy="573.3" r="7.2"/><circle cx="956.1" cy="522.1" r="7.2"/><circle cx="957.1" cy="530.7" r="7.2"/><circle cx="958.1" cy="565.0" r="7.2"/><circle cx="959.1" cy="580.4" r="7.2"/><circle cx="960.1" cy="621.7" r="7.2"/><circle cx="961.1" cy="598.5" r="7.2"/><circle cx="962.1" cy="540.6" r="7.2"/><circle cx="963.1" cy="492.2" r="7.2"/><circle cx="964.1" cy="550.1" r="7.2"/><circle cx="965.1" cy="554.7" r="7.2"/><circle cx="966.2" cy="540.5" r="7.2"/><circle cx="967.2" cy="497.3" r="7.2"/><circle cx="968.2" cy="512.7" r="7.2"/><circle cx="969.2" cy="524.4" r="7.2"/><circle cx="970.2" cy="584.0" r="7.2"/><circle cx="971.2" cy="551.1" r="7.2"/><circle cx="972.2" cy="548.5" r="7.2"/><circle cx="973.2" cy="590.8" r="7.2"/><circle cx="974.2" cy="523.7" r="7.2"/><circle cx="975.2" cy="552.4" r="7.2"/><circle cx="976.2" cy="616.5" r="7.2"/><circle cx="977.2" cy="711.3" r="7.2"/><circle cx="978.2" cy="700.8" r="7.2"/><circle cx="979.2" cy="718.5" r="7.2"/><circle cx="980.2" cy="712.4" r="7.2"/><circle cx="981.2" cy="727.5" r="7.2"/><circle cx="982.2" cy="710.2" r="7.2"/><circle cx="983.2" cy="703.5" r="7.2"/><circle cx="984.2" cy="709.1" r="7.2"/><circle cx="985.2" cy="703.3" r="7.2"/><circle cx="986.2" cy="721.5" r="7.2"/><circle cx="987.2" cy="711.3" r="7.2"/><circle cx="988.2" cy="711.2" r="7.2"/><circle cx="989.2" cy="719.7" r="7.2"/><circle cx="990.2" cy="702.9" r="7.2"/><circle cx="991.2" cy="702.2" r="7.2"/><circle cx="992.2" cy="713.4" r="7.2"/><circle cx="993.2" cy="699.0" r="7.2"/><circle cx="994.2" cy="717.6" r="7.2"/><circle cx="995.2" cy="704.4" r="7.2"/><circle cx="996.2" cy="706.5" r="7.2"/><circle cx="997.2" cy="630.8" r="7.2"/><circle cx="998.2" cy="671.6" r="7.2"/><circle cx="999.2" cy="657.4" r="7.2"/><circle cx="1000.2" cy="636.0" r="7.2"/><circle cx="1001.2" cy="648.8" r="7.2"/><circle cx="1002.2" cy="653.9" r="7.2"/><circle cx="1003.2" cy="670.8" r="7.2"/><circle cx="1004.2" cy="659.0" r="7.2"/><circle cx="1005.2" cy="620.7" r="7.2"/><circle cx="1006.2" cy="644.9" r="7.2"/><circle cx="1007.2" cy="634.6" r="7.2"/><circle cx="1008.2" cy="620.8" r="7.2"/><circle cx="1009.2" cy="637.8" r="7.2"/><circle cx="1010.2" cy="643.9" r="7.2"/><circle cx="1011.2" cy="651.4" r="7.2"/><circle cx="1012.2" cy="644.7" r="7.2"/><circle cx="1013.2" cy="666.7" r="7.2"/><circle cx="1014.2" cy="641.0" r="7.2"/><circle cx="1015.2" cy="664.2" r="7.2"/><circle cx="1016.2" cy="627.7" r="7.2"/><circle cx="1017.2" cy="626.2" r="7.2"/><circle cx="1018.2" cy="671.8" r="7.2"/><circle cx="1019.2" cy="668.2" r="7.2"/><circle cx="1020.2" cy="661.2" r="7.2"/><circle cx="1021.2" cy="655.1" r="7.2"/><circle cx="1022.2" cy="625.5" r="7.2"/><circle cx="1023.2" cy="648.7" r="7.2"/><circle cx="1024.2" cy="687.0" r="7.2"/><circle cx="1025.2" cy="690.3" r="7.2"/><circle cx="1026.2" cy="657.5" r="7.2"/><circle cx="1027.2" cy="676.5" r="7.2"/><circle cx="1028.2" cy="639.1" r="7.2"/><circle cx="1029.2" cy="737.9" r="7.2"/><circle cx="1030.2" cy="733.4" r="7.2"/><circle cx="1031.2" cy="736.2" r="7.2"/><circle cx="1032.2" cy="737.6" r="7.2"/><circle cx="1033.2" cy="737.0" r="7.2"/><circle cx="1034.2" cy="734.8" r="7.2"/><circle cx="1035.2" cy="737.0" r="7.2"/><circle cx="1036.2" cy="733.3" r="7.2"/><circle cx="1037.2" cy="734.6" r="7.2"/><circle cx="1038.2" cy="733.8" r="7.2"/><circle cx="1039.2" cy="732.5" r="7.2"/><circle cx="1040.2" cy="735.4" r="7.2"/><circle cx="1041.2" cy="735.3" r="7.2"/><circle cx="1042.2" cy="733.8" r="7.2"/><circle cx="1043.2" cy="735.6" r="7.2"/><circle cx="1044.2" cy="734.7" r="7.2"/><circle cx="1045.2" cy="734.0" r="7.2"/><circle cx="1046.2" cy="736.9" r="7.2"/><circle cx="1047.2" cy="732.5" r="7.2"/><circle cx="1048.2" cy="733.1" r="7.2"/><circle cx="1049.2" cy="734.3" r="7.2"/><circle cx="1050.2" cy="731.3" r="7.2"/><circle cx="1051.2" cy="735.2" r="7.2"/><circle cx="1052.2" cy="738.3" r="7.2"/><circle cx="1053.2" cy="735.6" r="7.2"/><circle cx="1054.2" cy="737.7" r="7.2"/><circle cx="1055.2" cy="735.6" r="7.2"/><circle cx="1056.2" cy="735.8" r="7.2"/><circle cx="1057.2" cy="734.1" r="7.2"/><circle cx="1058.2" cy="732.5" r="7.2"/><circle cx="1059.2" cy="734.9" r="7.2"/><circle cx="1060.2" cy="731.8" r="7.2"/><circle cx="1061.2" cy="727.8" r="7.2"/><circle cx="1062.2" cy="726.4" r="7.2"/><circle cx="1063.2" cy="729.1" r="7.2"/><circle cx="1064.2" cy="735.4" r="7.2"/><circle cx="1065.2" cy="727.4" r="7.2"/><circle cx="1066.2" cy="730.5" r="7.2"/><circle cx="1067.2" cy="730.3" r="7.2"/><circle cx="1068.2" cy="737.9" r="7.2"/><circle cx="1069.3" cy="734.7" r="7.2"/><circle cx="1070.3" cy="733.8" r="7.2"/><circle cx="1071.3" cy="734.7" r="7.2"/><circle cx="1072.3" cy="736.5" r="7.2"/><circle cx="1073.3" cy="735.8" r="7.2"/><circle cx="1074.3" cy="734.3" r="7.2"/><circle cx="1075.3" cy="735.2" r="7.2"/><circle cx="1076.3" cy="733.5" r="7.2"/><circle cx="1077.3" cy="735.7" r="7.2"/><circle cx="1078.3" cy="735.7" r="7.2"/><circle cx="1079.3" cy="729.2" r="7.2"/><circle cx="1080.3" cy="732.8" r="7.2"/><circle cx="1081.3" cy="735.0" r="7.2"/><circle cx="1082.3" cy="733.2" r="7.2"/><circle cx="1083.3" cy="735.4" r="7.2"/><circle cx="1084.3" cy="730.1" r="7.2"/><circle cx="1085.3" cy="735.4" r="7.2"/><circle cx="1086.3" cy="736.2" r="7.2"/><circle cx="1087.3" cy="733.4" r="7.2"/><circle cx="1088.3" cy="733.6" r="7.2"/><circle cx="1089.3" cy="733.9" r="7.2"/><circle cx="1090.3" cy="735.9" r="7.2"/><circle cx="1091.3" cy="733.0" r="7.2"/><circle cx="1092.3" cy="733.3" r="7.2"/><circle cx="1093.3" cy="729.2" r="7.2"/><circle cx="1094.3" cy="734.7" r="7.2"/><circle cx="1095.3" cy="733.8" r="7.2"/><circle cx="1096.3" cy="736.0" r="7.2"/><circle cx="1097.3" cy="734.7" r="7.2"/><circle cx="1098.3" cy="733.6" r="7.2"/><circle cx="1099.3" cy="729.1" r="7.2"/><circle cx="1100.3" cy="735.0" r="7.2"/><circle cx="1101.3" cy="736.2" r="7.2"/><circle cx="1102.3" cy="732.4" r="7.2"/><circle cx="1103.3" cy="735.4" r="7.2"/><circle cx="1104.3" cy="738.1" r="7.2"/><circle cx="1105.3" cy="737.2" r="7.2"/><circle cx="1106.3" cy="731.7" r="7.2"/><circle cx="1107.3" cy="734.8" r="7.2"/><circle cx="1108.3" cy="731.9" r="7.2"/><circle cx="1109.3" cy="736.9" r="7.2"/><circle cx="1110.3" cy="733.3" r="7.2"/><circle cx="1111.3" cy="731.3" r="7.2"/><circle cx="1112.3" cy="734.9" r="7.2"/><circle cx="1113.3" cy="736.0" r="7.2"/><circle cx="1114.3" cy="734.0" r="7.2"/><circle cx="1115.3" cy="732.8" r="7.2"/><circle cx="1116.3" cy="733.3" r="7.2"/><circle cx="1117.3" cy="731.5" r="7.2"/><circle cx="1118.3" cy="732.6" r="7.2"/><circle cx="1119.3" cy="735.1" r="7.2"/><circle cx="1120.3" cy="736.2" r="7.2"/><circle cx="1121.3" cy="737.2" r="7.2"/><circle cx="1122.3" cy="735.3" r="7.2"/><circle cx="1123.3" cy="732.1" r="7.2"/><circle cx="1124.3" cy="737.1" r="7.2"/><circle cx="1125.3" cy="731.9" r="7.2"/><circle cx="1126.3" cy="727.6" r="7.2"/><circle cx="1127.3" cy="735.8" r="7.2"/><circle cx="1128.3" cy="734.7" r="7.2"/><circle cx="1129.3" cy="736.8" r="7.2"/><circle cx="1130.3" cy="736.9" r="7.2"/><circle cx="1131.3" cy="734.4" r="7.2"/><circle cx="1132.3" cy="733.8" r="7.2"/><circle cx="1133.3" cy="734.8" r="7.2"/><circle cx="1134.3" cy="736.4" r="7.2"/><circle cx="1135.3" cy="736.9" r="7.2"/><circle cx="1136.3" cy="736.8" r="7.2"/><circle cx="1137.3" cy="733.0" r="7.2"/><circle cx="1138.3" cy="734.8" r="7.2"/><circle cx="1139.3" cy="735.8" r="7.2"/><circle cx="1140.3" cy="730.2" r="7.2"/><circle cx="1141.3" cy="733.7" r="7.2"/><circle cx="1142.3" cy="725.8" r="7.2"/><circle cx="1143.3" cy="737.1" r="7.2"/><circle cx="1144.3" cy="729.5" r="7.2"/><circle cx="1145.3" cy="734.7" r="7.2"/><circle cx="1146.3" cy="730.4" r="7.2"/><circle cx="1147.3" cy="736.1" r="7.2"/><circle cx="1148.3" cy="727.9" r="7.2"/><circle cx="1149.3" cy="735.2" r="7.2"/><circle cx="1150.3" cy="736.1" r="7.2"/><circle cx="1151.3" cy="731.6" r="7.2"/><circle cx="1152.3" cy="733.0" r="7.2"/><circle cx="1153.3" cy="734.7" r="7.2"/><circle cx="1154.3" cy="726.8" r="7.2"/><circle cx="1155.3" cy="733.3" r="7.2"/><circle cx="1156.3" cy="730.8" r="7.2"/><circle cx="1157.3" cy="735.5" r="7.2"/><circle cx="1158.3" cy="728.2" r="7.2"/><circle cx="1159.3" cy="730.9" r="7.2"/><circle cx="1160.3" cy="727.4" r="7.2"/><circle cx="1161.3" cy="735.2" r="7.2"/><circle cx="1162.3" cy="734.9" r="7.2"/><circle cx="1163.3" cy="736.7" r="7.2"/><circle cx="1164.3" cy="733.3" r="7.2"/><circle cx="1165.3" cy="734.2" r="7.2"/><circle cx="1166.3" cy="735.9" r="7.2"/><circle cx="1167.3" cy="733.4" r="7.2"/><circle cx="1168.3" cy="737.7" r="7.2"/><circle cx="1169.3" cy="728.9" r="7.2"/><circle cx="1170.3" cy="728.0" r="7.2"/><circle cx="1171.4" cy="730.1" r="7.2"/><circle cx="1172.4" cy="737.1" r="7.2"/><circle cx="1173.4" cy="736.8" r="7.2"/><circle cx="1174.4" cy="736.3" r="7.2"/><circle cx="1175.4" cy="735.9" r="7.2"/><circle cx="1176.4" cy="737.4" r="7.2"/><circle cx="1177.4" cy="733.4" r="7.2"/><circle cx="1178.4" cy="736.1" r="7.2"/><circle cx="1179.4" cy="733.7" r="7.2"/><circle cx="1180.4" cy="735.2" r="7.2"/><circle cx="1181.4" cy="737.0" r="7.2"/><circle cx="1182.4" cy="735.6" r="7.2"/><circle cx="1183.4" cy="735.0" r="7.2"/><circle cx="1184.4" cy="733.5" r="7.2"/><circle cx="1185.4" cy="729.3" r="7.2"/><circle cx="1186.4" cy="736.4" r="7.2"/><circle cx="1187.4" cy="736.8" r="7.2"/><circle cx="1188.4" cy="734.9" r="7.2"/><circle cx="1189.4" cy="736.0" r="7.2"/><circle cx="1190.4" cy="726.7" r="7.2"/><circle cx="1191.4" cy="733.9" r="7.2"/><circle cx="1192.4" cy="735.7" r="7.2"/><circle cx="1193.4" cy="735.4" r="7.2"/><circle cx="1194.4" cy="733.5" r="7.2"/><circle cx="1195.4" cy="732.9" r="7.2"/><circle cx="1196.4" cy="735.1" r="7.2"/><circle cx="1197.4" cy="735.2" r="7.2"/><circle cx="1198.4" cy="727.9" r="7.2"/><circle cx="1199.4" cy="735.0" r="7.2"/><circle cx="1200.4" cy="730.3" r="7.2"/><circle cx="1201.4" cy="730.5" r="7.2"/><circle cx="1202.4" cy="735.0" r="7.2"/><circle cx="1203.4" cy="733.5" r="7.2"/><circle cx="1204.4" cy="736.6" r="7.2"/><circle cx="1205.4" cy="731.5" r="7.2"/><circle cx="1206.4" cy="730.7" r="7.2"/><circle cx="1207.4" cy="731.8" r="7.2"/><circle cx="1208.4" cy="734.3" r="7.2"/><circle cx="1209.4" cy="732.1" r="7.2"/><circle cx="1210.4" cy="729.2" r="7.2"/><circle cx="1211.4" cy="735.8" r="7.2"/><circle cx="1212.4" cy="736.3" r="7.2"/><circle cx="1213.4" cy="735.2" r="7.2"/><circle cx="1214.4" cy="736.6" r="7.2"/><circle cx="1215.4" cy="734.9" r="7.2"/><circle cx="1216.4" cy="731.0" r="7.2"/><circle cx="1217.4" cy="736.4" r="7.2"/><circle cx="1218.4" cy="737.3" r="7.2"/><circle cx="1219.4" cy="733.5" r="7.2"/><circle cx="1220.4" cy="734.8" r="7.2"/><circle cx="1221.4" cy="732.8" r="7.2"/><circle cx="1222.4" cy="735.9" r="7.2"/><circle cx="311.5" cy="548.1" r="7.2"/><circle cx="329.5" cy="557.8" r="7.2"/><circle cx="308.4" cy="566.5" r="7.2"/><circle cx="323.5" cy="575.0" r="7.2"/><circle cx="328.8" cy="615.0" r="7.2"/><circle cx="426.7" cy="684.2" r="7.2"/><circle cx="368.8" cy="683.8" r="7.2"/><circle cx="355.0" cy="692.5" r="7.2"/><circle cx="432.5" cy="701.0" r="7.2"/><circle cx="466.7" cy="645.6" r="7.2"/><circle cx="467.3" cy="656.4" r="7.2"/><circle cx="489.7" cy="655.7" r="7.2"/><circle cx="519.7" cy="629.5" r="7.2"/><circle cx="512.4" cy="649.9" r="7.2"/><circle cx="525.5" cy="618.5" r="7.2"/><circle cx="586.0" cy="644.8" r="7.2"/><circle cx="649.9" cy="716.5" r="7.2"/><circle cx="671.4" cy="716.5" r="7.2"/><circle cx="696.0" cy="713.5" r="7.2"/><circle cx="739.1" cy="714.2" r="7.2"/><circle cx="899.1" cy="331.2" r="7.2"/><circle cx="944.1" cy="381.7" r="7.2"/><circle cx="957.2" cy="401.1" r="7.2"/><circle cx="967.0" cy="420.3" r="7.2"/><circle cx="960.0" cy="440.6" r="7.2"/><circle cx="897.8" cy="417.2" r="7.2"/><circle cx="904.8" cy="425.8" r="7.2"/><circle cx="918.1" cy="430.2" r="7.2"/><circle cx="868.2" cy="453.0" r="7.2"/><circle cx="866.8" cy="477.0" r="7.2"/><circle cx="869.0" cy="484.4" r="7.2"/><circle cx="863.9" cy="594.7" r="7.2"/><circle cx="929.5" cy="618.8" r="7.2"/><circle cx="955.7" cy="633.3" r="7.2"/><circle cx="955.0" cy="661.0" r="7.2"/><circle cx="997.1" cy="554.4" r="7.2"/><circle cx="1001.2" cy="573.5" r="7.2"/><circle cx="1015.0" cy="580.0" r="7.2"/><circle cx="1004.0" cy="589.4" r="7.2"/><circle cx="1000.0" cy="603.8" r="7.2"/><circle cx="998.8" cy="616.9" r="7.2"/><circle cx="1025.0" cy="594.4" r="7.2"/><circle cx="1019.4" cy="604.4" r="7.2"/><circle cx="1026.2" cy="605.0" r="7.2"/><circle cx="979.7" cy="720.6" r="7.2"/><circle cx="991.4" cy="724.3" r="7.2"/><circle cx="977.5" cy="694.4" r="7.2"/><circle cx="1006.7" cy="696.6" r="7.2"/><circle cx="977.5" cy="546.9" r="7.2"/><circle cx="976.9" cy="574.4" r="7.2"/><circle cx="453.8" cy="728.2" r="7.2"/></g>
<path class="g" d="M198.4 734.9H230.4V734.6H238.4V734.7H246.4V732.0H278.5V732.3H286.5V732.7H298.5V604.4H306.5V613.5H310.5V658.2H314.5V649.8H318.5V667.2H330.5V739.5H338.5V739.0H350.6V710.4H382.6V715.8H390.6V700.4H406.6V709.3H410.6V714.0H434.6V736.8H442.6V738.6H454.7V675.2H462.7V667.5H470.7V665.7H478.7V656.5H486.7V688.5H502.7V692.8H518.7V691.4H534.7V701.4H542.7V700.5H554.8V693.1H562.8V702.1H566.8V702.2H590.8V701.3H598.8V679.5H606.8V737.7H622.8V736.8H646.8V730.3H654.9V731.0H718.9V729.2H783.0V730.3H815.0V729.8H831.0V730.2H863.1V654.9H867.1V664.7H871.1V543.0H879.1V529.5H887.1V434.7H891.1V461.4H895.1V535.0H907.1V656.2H923.1V524.3H931.1V636.3H939.1V586.7H963.2V563.4H967.2V570.2H971.2V579.2H975.2V680.0H979.2V703.1H995.2V654.5H1003.2V619.9H1011.2V669.9H1027.2V734.8H1059.3V733.7H1091.3V733.6H1099.3V732.6H1115.3V733.7H1147.3V732.4H1163.4V731.7H1179.4V731.7H1211.4V733.6H1222.4"/>
<path class="g" d="M198.4 731.6H214.4V733.0H278.5V733.1H298.5V633.4H322.5V611.3H326.5V700.4H330.5V737.8H338.5V737.3H350.6V728.3H358.6V716.3H366.6V719.5H374.6V718.8H382.6V716.6H390.6V714.2H398.6V720.6H430.6V732.6H434.6V737.7H450.7V740.1H454.7V674.7H478.7V673.5H482.7V666.2H486.7V687.6H494.7V690.6H502.7V680.1H506.7V693.4H514.7V695.8H522.7V693.5H526.7V693.9H538.7V701.5H542.7V695.7H566.8V659.1H574.8V708.0H590.8V704.5H598.8V689.7H606.8V739.5H638.8V738.6H646.8V731.5H710.9V726.8H726.9V735.0H791.0V728.5H799.0V729.9H807.0V732.2H815.0V728.5H823.0V725.8H855.1V733.2H863.1V649.3H875.1V428.9H879.1V424.4H903.1V488.3H915.1V467.2H931.1V513.7H947.1V516.8H955.2V576.5H959.2V499.8H971.2V589.8H975.2V693.4H991.2V697.2H995.2V639.6H999.2V627.5H1003.2V659.9H1011.2V677.6H1027.2V733.6H1035.2V733.5H1099.3V731.6H1115.3V734.2H1147.3V733.0H1179.4V734.0H1222.4"/>
<path class="g" d="M198.4 732.6H230.4V734.5H294.5V724.9H298.5V616.7H314.5V673.1H318.5V678.2H326.5V696.2H330.5V736.7H350.6V712.7H382.6V724.9H398.6V724.5H406.6V712.1H414.6V716.5H434.6V739.7H450.7V739.1H454.7V676.2H462.7V671.0H478.7V664.8H490.7V681.1H502.7V686.2H510.7V694.1H518.7V657.5H526.7V703.2H550.8V669.9H558.8V694.8H570.8V682.8H578.8V711.5H590.8V709.2H602.8V685.5H606.8V737.8H638.8V738.5H646.8V731.6H710.9V729.4H742.9V735.0H775.0V729.0H839.0V727.5H863.1V629.5H867.1V653.5H871.1V503.9H879.1V516.6H887.1V529.3H891.1V510.6H907.1V653.4H923.1V585.2H939.1V606.1H943.1V578.2H951.2V637.8H955.2V609.3H959.2V452.3H963.2V458.5H967.2V541.2H971.2V609.5H975.2V689.5H983.2V709.8H991.2V695.9H995.2V661.3H1011.2V663.8H1019.2V696.0H1027.2V734.9H1059.3V736.6H1123.3V734.3H1131.3V736.0H1139.3V732.5H1155.4V734.1H1163.4V734.0H1222.4"/>
<path class="g" d="M198.4 734.9H230.4V735.6H238.4V734.9H246.4V735.3H278.5V731.8H298.5V698.8H322.5V678.3H326.5V629.2H330.5V734.9H350.6V722.3H366.6V720.8H382.6V731.0H414.6V713.5H430.6V728.0H434.6V737.9H442.6V738.4H450.7V738.8H454.7V672.1H462.7V682.3H466.7V688.4H470.7V683.1H486.7V689.1H510.7V697.0H522.7V689.1H534.7V695.7H558.8V694.9H562.8V683.8H570.8V666.2H574.8V662.0H586.8V708.6H594.8V691.4H602.8V692.5H606.8V738.0H622.8V736.8H638.8V737.8H646.8V729.0H678.9V729.9H710.9V731.7H742.9V729.7H759.0V729.8H775.0V729.0H783.0V730.7H847.0V734.2H863.1V640.1H871.1V593.8H875.1V558.2H883.1V613.7H887.1V423.8H895.1V589.8H899.1V595.8H903.1V503.0H907.1V518.0H911.1V662.6H923.1V548.6H931.1V629.3H955.2V563.2H959.2V611.5H967.2V583.7H975.2V708.4H995.2V689.6H999.2V675.8H1011.2V677.2H1027.2V734.4H1059.3V733.0H1091.3V730.9H1155.4V733.4H1163.4V734.6H1171.4V734.2H1203.4V734.4H1219.4V734.3H1222.4"/>
<path class="g" d="M198.4 731.8H206.4V733.3H214.4V734.0H230.4V732.3H238.4V727.9H246.4V733.9H278.5V734.8H286.5V734.5H294.5V729.5H298.5V696.6H302.5V698.3H310.5V659.2H318.5V602.3H330.5V738.3H346.5V738.5H350.6V722.6H366.6V720.3H398.6V705.4H406.6V696.0H414.6V720.9H418.6V730.4H434.6V738.1H442.6V738.6H454.7V669.3H478.7V694.8H502.7V678.1H510.7V691.4H522.7V685.6H526.7V690.6H534.7V689.9H546.7V710.1H550.8V679.4H566.8V666.2H574.8V679.0H578.8V676.9H582.8V709.7H594.8V697.4H598.8V696.1H606.8V740.4H646.8V730.2H654.9V729.6H662.9V730.0H726.9V730.3H734.9V729.5H742.9V729.7H775.0V731.8H839.0V730.9H847.0V732.0H863.1V458.9H879.1V570.1H887.1V561.6H895.1V549.0H907.1V618.7H911.1V597.1H915.1V597.9H919.1V586.7H943.1V588.0H955.2V635.8H959.2V631.4H971.2V639.1H975.2V704.4H995.2V637.1H999.2V681.1H1023.2V695.9H1027.2V735.3H1035.2V733.8H1043.2V734.3H1075.3V733.3H1091.3V734.8H1099.3V733.7H1115.3V735.0H1147.3V733.8H1155.4V732.3H1163.4V734.9H1179.4V733.6H1187.4V732.8H1219.4V733.3H1222.4"/>
<path class="g" d="M198.4 738.0H262.5V731.1H278.5V730.4H298.5V696.4H302.5V647.8H318.5V625.5H322.5V659.9H330.5V736.6H350.6V726.6H358.6V720.5H366.6V712.4H374.6V706.5H382.6V698.7H414.6V712.3H418.6V720.8H426.6V731.4H434.6V740.4H450.7V738.4H454.7V684.9H458.7V696.0H462.7V694.4H478.7V670.4H486.7V662.1H490.7V687.9H502.7V690.8H506.7V672.9H510.7V698.0H518.7V669.7H530.7V690.6H534.7V705.1H550.8V689.3H558.8V657.1H574.8V674.9H578.8V663.8H582.8V708.5H594.8V677.2H606.8V736.9H638.8V739.1H646.8V730.1H710.9V732.8H742.9V730.2H759.0V729.0H775.0V731.2H783.0V731.7H791.0V732.2H823.0V726.7H855.1V733.6H863.1V653.6H867.1V657.7H871.1V563.9H883.1V499.3H895.1V531.0H903.1V656.5H911.1V661.2H915.1V456.1H927.1V649.6H943.1V639.9H951.2V625.1H959.2V617.8H963.2V603.9H975.2V688.3H979.2V706.6H987.2V690.8H995.2V698.3H999.2V626.0H1023.2V702.5H1027.2V736.0H1035.2V733.1H1043.2V736.0H1059.3V731.9H1075.3V735.3H1107.3V732.6H1123.3V731.3H1187.4V735.0H1219.4V732.3H1222.4"/>
<path class="g" d="M198.4 734.5H206.4V734.0H270.5V731.5H298.5V617.2H306.5V670.9H330.5V737.0H346.5V735.6H350.6V726.0H354.6V722.2H370.6V720.8H378.6V717.7H382.6V715.4H414.6V719.6H422.6V722.0H434.6V737.4H450.7V739.0H454.7V688.4H462.7V702.0H466.7V698.8H474.7V678.5H486.7V696.0H490.7V704.6H498.7V696.4H506.7V698.0H510.7V673.7H514.7V676.5H518.7V691.9H542.7V688.6H550.8V691.5H566.8V664.2H574.8V655.9H586.8V708.4H590.8V705.5H602.8V669.0H606.8V733.1H614.8V739.2H646.8V728.2H662.9V729.1H670.9V728.9H686.9V729.4H694.9V730.1H726.9V731.3H742.9V730.2H751.0V728.2H759.0V731.1H823.0V729.2H839.0V725.5H847.0V732.8H863.1V639.1H867.1V498.4H891.1V429.7H895.1V441.2H899.1V575.1H911.1V427.0H919.1V497.5H931.1V506.3H935.1V566.9H943.1V607.2H967.2V601.1H971.2V574.6H975.2V690.6H979.2V703.1H995.2V680.5H1011.2V627.1H1027.2V735.9H1035.2V736.1H1067.3V735.5H1099.3V733.9H1163.4V734.7H1195.4V735.1H1211.4V732.0H1222.4"/>
<path class="g" d="M198.4 732.5H214.4V735.6H222.4V732.4H286.5V733.8H294.5V728.7H298.5V698.6H306.5V609.0H318.5V599.6H330.5V738.4H338.5V738.4H350.6V711.6H382.6V700.3H414.6V714.9H418.6V725.0H426.6V732.7H434.6V739.5H450.7V737.6H454.7V677.7H466.7V673.2H474.7V658.3H486.7V692.0H494.7V691.8H498.7V688.8H510.7V697.8H514.7V658.3H530.7V676.9H534.7V693.2H538.7V684.1H562.8V668.3H566.8V662.2H570.8V688.7H574.8V688.9H582.8V713.4H594.8V709.4H598.8V687.5H602.8V676.7H606.8V737.9H646.8V729.9H678.9V728.5H694.9V729.3H759.0V732.0H775.0V728.9H839.0V721.8H855.1V731.9H863.1V518.5H887.1V441.0H895.1V496.4H899.1V515.6H903.1V495.5H911.1V598.1H915.1V552.2H931.1V637.7H943.1V597.8H951.2V569.8H963.2V590.2H975.2V684.5H983.2V711.2H987.2V681.0H995.2V685.7H1003.2V668.7H1007.2V689.7H1019.2V701.1H1027.2V734.3H1043.2V736.5H1051.3V734.5H1083.3V734.9H1099.3V734.9H1163.4V733.1H1179.4V734.6H1195.4V735.2H1203.4V734.7H1211.4V732.7H1222.4"/>
<path class="g" d="M198.4 735.0H262.5V734.2H270.5V734.3H278.5V734.9H286.5V731.0H294.5V723.8H298.5V699.7H302.5V677.6H306.5V638.7H314.5V669.1H330.5V736.2H350.6V719.7H366.6V715.2H370.6V715.1H402.6V727.6H406.6V720.5H422.6V720.7H434.6V738.6H454.7V675.8H462.7V678.1H470.7V661.1H474.7V670.1H482.7V660.8H486.7V686.6H490.7V691.1H494.7V686.5H502.7V694.6H518.7V677.9H530.7V681.9H534.7V697.8H542.7V708.7H546.7V673.3H554.8V688.6H566.8V672.6H582.8V711.5H586.8V710.3H606.8V739.5H646.8V731.6H662.9V731.7H694.9V731.3H759.0V711.2H767.0V727.7H783.0V728.6H847.0V733.7H863.1V607.3H875.1V500.3H899.1V514.7H907.1V504.9H919.1V471.2H923.1V540.0H939.1V590.6H947.1V547.9H955.2V524.2H959.2V615.2H963.2V623.3H971.2V565.8H975.2V692.1H995.2V700.4H999.2V623.7H1011.2V645.3H1015.2V654.0H1019.2V626.5H1023.2V675.5H1027.2V733.5H1091.3V732.1H1107.3V732.8H1139.3V731.7H1147.3V732.1H1163.4V734.7H1179.4V733.9H1195.4V735.1H1203.4V730.8H1222.4"/>
<path class="g" d="M198.4 734.8H230.4V734.1H294.5V730.3H298.5V697.5H306.5V696.5H310.5V609.4H314.5V648.1H330.5V738.2H350.6V720.2H354.6V726.5H358.6V720.9H366.6V701.2H374.6V717.5H390.6V724.8H394.6V696.8H402.6V717.5H406.6V720.0H410.6V712.4H426.6V732.3H430.6V730.2H434.6V738.7H454.7V699.9H466.7V696.1H470.7V689.2H482.7V688.7H498.7V664.5H502.7V672.8H510.7V701.0H518.7V672.8H522.7V693.1H534.7V693.2H558.8V678.2H562.8V683.0H574.8V711.5H598.8V688.6H602.8V692.5H606.8V738.4H638.8V739.5H646.8V731.0H654.9V729.3H686.9V729.1H718.9V729.1H751.0V730.1H815.0V724.5H863.1V552.3H879.1V587.0H887.1V475.9H891.1V477.6H895.1V428.2H899.1V458.5H907.1V556.8H911.1V534.1H927.1V572.8H931.1V522.9H939.1V513.1H947.1V511.4H959.2V563.8H975.2V680.6H983.2V683.9H995.2V692.4H999.2V656.5H1007.2V648.3H1015.2V652.7H1023.2V696.9H1027.2V733.0H1035.2V733.7H1067.3V735.0H1083.3V732.8H1115.3V733.6H1179.4V733.7H1187.4V733.4H1195.4V731.4H1203.4V732.9H1219.4V730.8H1222.4"/>
<path class="g" d="M198.4 732.5H206.4V731.9H222.4V734.5H286.5V732.3H298.5V684.0H306.5V648.6H322.5V638.6H330.5V737.6H350.6V725.4H358.6V723.1H366.6V717.8H382.6V714.7H398.6V715.5H430.6V731.5H434.6V739.3H454.7V694.8H458.7V690.2H462.7V690.0H474.7V690.1H498.7V687.1H502.7V688.6H518.7V702.2H530.7V698.8H538.7V705.1H542.7V699.5H550.8V681.0H558.8V686.3H562.8V682.6H586.8V692.7H594.8V691.1H602.8V702.1H606.8V734.2H614.8V738.4H630.8V738.5H646.8V730.8H678.9V731.9H694.9V727.3H702.9V731.5H718.9V733.0H726.9V730.3H742.9V731.9H751.0V731.0H815.0V726.5H863.1V652.0H867.1V563.5H875.1V585.6H879.1V507.9H887.1V483.9H891.1V541.4H915.1V455.1H923.1V579.3H931.1V632.8H935.1V480.5H959.2V562.3H963.2V546.8H971.2V657.4H975.2V699.8H991.2V685.2H995.2V659.9H1003.2V672.7H1019.2V692.3H1027.2V734.7H1043.2V732.7H1107.3V733.7H1139.3V733.3H1203.4V735.1H1211.4V733.6H1222.4"/>
<path class="g" d="M198.4 733.9H206.4V734.5H222.4V734.9H238.4V732.0H246.4V733.1H298.5V671.8H310.5V661.8H314.5V619.1H330.5V737.6H346.5V737.3H350.6V723.1H366.6V710.8H370.6V721.0H402.6V709.0H434.6V740.6H454.7V694.8H458.7V690.6H470.7V707.5H474.7V687.8H482.7V706.2H494.7V686.6H502.7V694.0H526.7V693.5H550.8V691.7H574.8V709.4H586.8V701.9H594.8V680.6H602.8V695.6H606.8V738.1H646.8V730.8H710.9V727.1H775.0V728.8H839.0V725.0H863.1V614.1H871.1V556.0H879.1V574.9H883.1V568.7H887.1V515.8H903.1V528.0H911.1V475.0H923.1V500.1H927.1V505.5H935.1V569.4H951.2V487.0H955.2V543.1H975.2V696.3H991.2V700.3H995.2V652.1H1011.2V634.8H1019.2V672.8H1027.2V732.7H1043.2V733.3H1107.3V732.9H1123.3V735.1H1131.3V734.6H1139.3V730.5H1147.3V732.1H1155.4V734.7H1163.4V733.1H1179.4V733.5H1211.4V735.1H1222.4"/>
<path class="g" d="M198.4 736.2H230.4V739.0H238.4V734.6H270.5V732.6H286.5V731.9H298.5V695.1H302.5V602.5H306.5V676.4H310.5V655.0H322.5V595.0H326.5V677.8H330.5V737.8H350.6V722.7H366.6V713.4H374.6V717.4H390.6V720.1H422.6V712.9H434.6V737.8H450.7V738.8H454.7V658.9H470.7V670.2H482.7V687.3H498.7V692.8H514.7V657.9H526.7V683.2H530.7V712.3H538.7V677.3H562.8V671.6H574.8V670.4H578.8V661.9H582.8V710.6H598.8V681.3H606.8V736.0H622.8V736.9H630.8V737.3H646.8V728.9H678.9V728.8H710.9V732.4H726.9V728.4H759.0V735.4H767.0V728.2H775.0V734.7H807.0V730.2H839.0V729.3H855.1V733.3H863.1V610.9H867.1V655.3H871.1V563.1H895.1V536.0H903.1V507.5H911.1V665.4H923.1V520.0H927.1V509.2H943.1V513.5H947.1V562.4H971.2V570.5H975.2V687.6H979.2V693.6H995.2V680.9H999.2V668.4H1011.2V663.0H1015.2V663.8H1027.2V733.2H1059.3V733.7H1091.3V734.5H1107.3V735.0H1139.3V733.5H1171.4V734.4H1222.4"/>
<path class="g" d="M198.4 733.7H262.5V733.4H270.5V735.1H278.5V735.2H294.5V730.0H298.5V698.7H302.5V666.2H326.5V662.4H330.5V737.6H346.5V735.0H350.6V726.2H358.6V725.4H362.6V716.2H394.6V727.4H402.6V724.3H434.6V737.5H454.7V666.1H458.7V666.1H470.7V688.4H474.7V695.9H498.7V682.4H502.7V691.8H518.7V694.5H526.7V698.2H538.7V701.7H554.8V686.6H566.8V691.2H570.8V693.7H578.8V708.7H594.8V687.7H606.8V740.6H646.8V733.4H654.9V730.6H686.9V731.2H718.9V726.1H726.9V729.5H742.9V729.3H759.0V729.7H775.0V729.0H791.0V728.6H855.1V732.7H863.1V645.4H875.1V560.6H887.1V515.6H899.1V612.4H907.1V551.2H919.1V556.6H935.1V539.8H951.2V527.9H967.2V558.2H971.2V595.4H975.2V696.6H991.2V685.9H995.2V677.8H1011.2V661.1H1027.2V734.2H1043.2V731.6H1107.3V732.3H1139.3V731.6H1171.4V734.3H1187.4V731.6H1195.4V732.6H1203.4V733.8H1219.4V735.7H1222.4"/>
<path class="g" d="M198.4 735.2H262.5V731.8H298.5V684.6H310.5V636.1H314.5V624.3H322.5V693.3H330.5V736.4H350.6V724.4H366.6V710.7H374.6V720.8H390.6V704.2H406.6V701.9H410.6V702.6H418.6V726.9H426.6V732.5H434.6V739.9H442.6V739.9H454.7V687.4H466.7V696.2H490.7V694.3H506.7V693.0H530.7V706.8H538.7V697.5H542.7V701.2H550.8V677.5H554.8V681.8H566.8V686.4H574.8V707.8H578.8V676.5H582.8V711.2H590.8V702.3H594.8V703.8H598.8V682.5H606.8V738.3H622.8V736.7H646.8V731.5H710.9V728.0H775.0V729.9H783.0V729.1H791.0V728.4H807.0V731.7H815.0V729.8H847.0V732.3H863.1V638.1H871.1V585.6H887.1V597.5H911.1V651.8H915.1V660.6H919.1V498.9H927.1V599.5H939.1V616.7H943.1V616.2H947.1V589.9H951.2V571.4H959.2V620.7H975.2V708.2H991.2V691.9H995.2V702.0H1007.2V679.8H1027.2V733.3H1035.2V734.8H1099.3V734.0H1131.3V735.2H1139.3V733.0H1203.4V733.6H1211.4V733.2H1219.4V731.4H1222.4"/>
<path class="g" d="M198.4 733.2H262.5V732.7H278.5V733.3H294.5V727.8H298.5V627.1H314.5V680.8H330.5V735.1H338.5V736.3H350.6V727.1H354.6V719.7H370.6V721.4H378.6V719.3H382.6V717.6H386.6V717.9H402.6V710.8H410.6V724.9H434.6V740.5H454.7V684.1H470.7V701.1H478.7V695.5H482.7V700.7H486.7V691.9H490.7V687.5H498.7V695.4H506.7V696.3H510.7V678.3H526.7V691.6H538.7V705.6H554.8V680.8H562.8V657.1H586.8V711.5H602.8V681.9H606.8V738.4H638.8V738.4H646.8V728.7H678.9V730.6H710.9V729.6H742.9V730.7H775.0V731.5H839.0V726.6H855.1V732.5H863.1V642.0H867.1V645.9H871.1V469.8H883.1V440.5H895.1V565.1H899.1V463.5H907.1V603.4H911.1V488.1H919.1V541.3H923.1V544.4H927.1V553.8H931.1V463.3H935.1V565.5H943.1V541.8H951.2V575.2H967.2V650.7H975.2V694.7H991.2V684.0H995.2V697.5H1003.2V635.5H1015.2V673.4H1023.2V696.5H1027.2V734.5H1043.2V736.5H1051.3V734.9H1115.3V733.6H1123.3V733.3H1187.4V733.5H1219.4V733.4H1222.4"/>
<path class="g" d="M198.4 736.2H206.4V734.9H238.4V733.9H246.4V733.6H298.5V699.4H302.5V625.1H306.5V665.3H314.5V671.8H330.5V736.9H350.6V724.2H358.6V723.3H362.6V720.3H370.6V716.6H378.6V720.3H410.6V721.2H418.6V723.7H422.6V726.3H426.6V731.4H434.6V739.0H454.7V673.7H478.7V683.0H486.7V690.5H498.7V689.2H502.7V687.8H506.7V698.0H510.7V691.3H518.7V708.5H522.7V700.3H534.7V705.4H542.7V697.8H554.8V685.7H562.8V684.2H566.8V656.7H578.8V688.8H582.8V703.4H586.8V710.8H590.8V704.2H594.8V677.4H602.8V684.3H606.8V737.6H622.8V738.6H646.8V731.9H678.9V730.7H694.9V730.3H726.9V727.1H734.9V730.1H767.0V728.7H831.0V723.1H863.1V444.8H887.1V518.8H899.1V507.8H915.1V523.8H923.1V494.2H927.1V455.6H935.1V572.8H943.1V516.9H951.2V504.7H963.2V586.1H975.2V685.0H983.2V697.5H995.2V679.6H1011.2V674.6H1019.2V688.3H1027.2V734.1H1035.2V734.0H1043.2V731.6H1075.3V732.6H1083.3V734.0H1147.3V733.0H1155.4V734.2H1163.4V734.4H1179.4V734.3H1222.4"/>
<path class="g" d="M198.4 731.6H262.5V734.1H278.5V733.2H298.5V700.0H302.5V602.9H306.5V688.3H322.5V684.4H326.5V673.9H330.5V735.3H346.5V737.3H350.6V715.5H382.6V715.4H414.6V720.0H422.6V710.7H430.6V730.1H434.6V737.8H450.7V739.7H454.7V661.2H458.7V681.6H462.7V675.0H466.7V672.7H474.7V662.9H486.7V674.4H490.7V686.2H506.7V686.5H510.7V696.9H514.7V702.1H526.7V692.4H542.7V696.2H550.8V692.8H566.8V675.1H570.8V706.6H578.8V707.3H586.8V710.4H598.8V679.3H606.8V736.7H646.8V729.7H678.9V732.1H710.9V730.3H726.9V727.0H734.9V724.8H742.9V735.4H775.0V727.9H791.0V730.6H855.1V732.3H863.1V644.0H867.1V659.3H871.1V485.7H879.1V589.1H883.1V507.6H907.1V651.0H919.1V626.2H927.1V560.0H939.1V666.0H943.1V662.3H947.1V630.2H963.2V558.2H975.2V709.0H991.2V698.8H995.2V661.5H1011.2V661.2H1027.2V734.5H1091.3V734.1H1155.4V732.7H1163.4V732.9H1171.4V733.6H1203.4V733.4H1219.4V730.8H1222.4"/>
<path class="g" d="M198.4 732.9H214.4V731.4H230.4V734.0H246.4V734.5H254.5V734.1H270.5V736.0H278.5V734.0H298.5V695.5H306.5V678.3H310.5V647.1H318.5V676.7H326.5V669.7H330.5V736.1H346.5V738.1H350.6V720.9H354.6V728.1H358.6V724.7H366.6V705.3H374.6V713.3H406.6V701.0H410.6V711.1H414.6V723.5H430.6V732.5H434.6V738.9H454.7V698.7H462.7V672.3H478.7V685.1H482.7V693.5H498.7V684.0H510.7V682.6H526.7V663.1H530.7V705.0H542.7V705.2H546.7V675.7H554.8V688.2H566.8V674.7H570.8V669.2H574.8V667.4H578.8V666.9H582.8V709.6H586.8V711.7H602.8V699.3H606.8V734.9H614.8V737.9H646.8V732.1H654.9V730.5H670.9V728.4H734.9V727.5H742.9V734.9H775.0V729.5H839.0V727.4H855.1V732.0H863.1V618.0H875.1V482.6H879.1V427.8H887.1V504.8H903.1V581.3H927.1V561.5H935.1V618.3H951.2V539.7H963.2V623.3H975.2V690.4H983.2V682.3H991.2V687.5H995.2V700.8H999.2V673.7H1003.2V660.1H1007.2V675.5H1011.2V679.7H1027.2V731.5H1043.2V732.9H1059.3V733.9H1075.3V733.1H1139.3V732.5H1147.3V733.5H1179.4V732.0H1211.4V732.9H1222.4"/>
<path class="g" d="M198.4 735.9H206.4V734.5H270.5V732.0H286.5V732.3H294.5V715.9H298.5V671.5H314.5V680.3H330.5V736.1H350.6V725.2H358.6V717.1H390.6V725.8H394.6V701.2H426.6V730.5H434.6V740.0H442.6V740.0H454.7V691.5H478.7V698.9H482.7V693.7H486.7V692.3H502.7V694.9H518.7V675.4H530.7V692.5H538.7V703.5H546.7V701.8H550.8V696.3H566.8V681.3H582.8V712.7H586.8V709.3H606.8V738.6H646.8V732.0H654.9V730.0H718.9V730.4H751.0V729.7H767.0V730.5H783.0V726.9H815.0V731.6H847.0V727.5H855.1V732.5H863.1V655.9H867.1V552.8H875.1V555.8H891.1V528.6H899.1V481.9H903.1V634.6H927.1V624.1H939.1V612.3H955.2V600.1H963.2V613.1H967.2V654.8H975.2V687.9H979.2V698.7H987.2V684.3H995.2V688.8H1011.2V654.4H1027.2V735.7H1091.3V733.1H1099.3V733.6H1163.4V731.9H1171.4V733.7H1222.4"/>
<path class="g" d="M198.4 731.5H230.4V734.8H262.5V735.6H294.5V726.4H298.5V699.8H302.5V695.7H314.5V643.7H330.5V737.4H338.5V738.2H346.5V738.4H350.6V723.1H366.6V702.1H374.6V721.0H382.6V704.8H414.6V712.1H422.6V724.3H434.6V740.5H442.6V739.4H454.7V666.5H470.7V680.4H474.7V701.6H478.7V695.3H486.7V685.0H494.7V690.2H498.7V687.6H510.7V684.1H514.7V677.0H530.7V695.7H554.8V686.1H558.8V663.6H582.8V711.0H594.8V711.9H598.8V686.0H606.8V738.7H646.8V729.6H678.9V730.6H742.9V727.2H759.0V730.2H791.0V729.2H807.0V731.7H823.0V729.8H831.0V725.2H863.1V645.6H867.1V542.1H883.1V505.7H899.1V539.3H903.1V530.7H919.1V566.8H927.1V574.9H935.1V600.9H943.1V523.7H955.2V496.1H967.2V539.9H975.2V692.4H991.2V706.1H995.2V680.6H1007.2V673.1H1019.2V679.4H1027.2V731.4H1059.3V735.7H1067.3V734.8H1131.3V734.1H1163.4V733.4H1195.4V735.7H1211.4V731.8H1222.4"/>
<path class="g" d="M198.4 734.0H214.4V734.2H230.4V733.7H238.4V735.0H246.4V732.6H262.5V733.2H278.5V732.2H298.5V696.1H302.5V613.4H306.5V694.7H310.5V623.4H318.5V657.3H326.5V696.5H330.5V738.5H346.5V736.5H350.6V726.8H358.6V705.9H374.6V724.0H378.6V724.7H382.6V716.1H398.6V718.8H402.6V700.8H418.6V721.4H426.6V730.5H430.6V730.6H434.6V738.2H450.7V738.7H454.7V656.7H478.7V669.4H482.7V681.4H506.7V711.5H514.7V660.0H526.7V667.5H530.7V704.5H538.7V687.1H542.7V690.4H558.8V694.4H570.8V709.7H594.8V694.1H602.8V703.4H606.8V738.5H622.8V739.0H646.8V733.0H654.9V730.8H718.9V731.6H751.0V731.5H815.0V734.0H831.0V730.1H839.0V727.7H863.1V532.6H887.1V425.3H895.1V560.4H919.1V488.5H927.1V488.0H943.1V534.0H951.2V588.3H967.2V599.2H975.2V689.6H995.2V683.1H1019.2V680.2H1023.2V695.4H1027.2V733.3H1059.3V732.5H1075.3V733.4H1139.3V732.1H1147.3V733.8H1211.4V733.4H1222.4"/>
<path class="g" d="M198.4 736.7H230.4V737.2H238.4V732.0H246.4V733.6H298.5V697.4H310.5V655.8H330.5V738.1H350.6V721.5H354.6V723.2H370.6V718.5H378.6V712.4H410.6V713.3H426.6V730.9H430.6V731.7H434.6V738.9H450.7V739.6H454.7V695.7H466.7V701.8H478.7V704.2H494.7V698.5H518.7V703.5H522.7V695.3H546.7V698.1H550.8V700.1H558.8V674.1H582.8V709.4H590.8V709.2H594.8V697.1H598.8V689.7H606.8V738.7H638.8V737.1H646.8V730.2H654.9V728.3H686.9V730.3H702.9V731.9H734.9V728.1H767.0V730.7H775.0V731.4H839.0V725.7H847.0V732.8H863.1V597.0H871.1V567.0H887.1V525.8H895.1V472.0H903.1V620.0H911.1V657.6H919.1V593.6H931.1V620.0H935.1V591.6H947.1V553.3H959.2V524.6H963.2V549.2H971.2V561.2H975.2V687.6H979.2V691.1H983.2V692.8H995.2V635.4H1011.2V650.7H1015.2V691.1H1019.2V642.6H1027.2V732.9H1059.3V733.2H1091.3V733.5H1099.3V733.7H1163.4V734.5H1179.4V730.8H1187.4V734.6H1222.4"/>
<path class="g" d="M198.4 736.6H230.4V733.3H246.4V732.9H278.5V732.7H298.5V645.6H306.5V686.0H318.5V620.3H322.5V668.2H330.5V738.0H338.5V736.4H350.6V720.5H366.6V714.9H382.6V711.5H386.6V718.1H394.6V716.5H410.6V716.4H418.6V716.9H426.6V728.8H430.6V731.5H434.6V740.8H442.6V739.3H450.7V740.8H454.7V670.1H478.7V693.1H486.7V683.0H502.7V701.5H506.7V704.8H510.7V706.1H518.7V657.3H522.7V688.9H530.7V680.1H534.7V698.7H542.7V698.2H546.7V697.8H550.8V702.0H554.8V689.1H570.8V691.7H574.8V710.6H582.8V710.7H586.8V700.1H590.8V701.8H598.8V671.7H606.8V738.8H638.8V738.3H646.8V731.3H662.9V730.9H670.9V730.0H734.9V730.5H799.0V729.3H863.1V648.7H867.1V550.0H875.1V462.9H883.1V420.5H899.1V547.5H923.1V545.6H931.1V563.0H955.2V553.4H963.2V619.2H975.2V707.0H991.2V686.7H995.2V664.4H1019.2V631.9H1023.2V698.2H1027.2V735.1H1035.2V734.6H1051.3V736.6H1059.3V734.3H1091.3V731.6H1099.3V733.6H1115.3V735.0H1147.3V735.3H1211.4V734.5H1222.4"/>
<path class="g" d="M866.0 672.0H870.4V600.0H877.7V645.0H886.5V627.5H892.3V625.3H902.5V656.7H909.8V664.7H918.5V560.0H922.0"/>
<path class="g" d="M295.2 724.0L295.2 680.0L299.6 680.0L299.6 724.0"/>
<path class="g" d="M295.2 690.0L299.6 690.0"/>
<path class="g" d="M295.2 700.0L299.6 700.0"/>
<path class="g" d="M295.2 712.0L299.6 712.0"/>
<path class="g" d="M333.3 687.0L333.3 736.0"/>
<path class="g" d="M886.9 520.0L886.9 372.7L894.4 372.7L894.4 376.9L902.5 376.9L902.5 540.0"/>
<path class="g" d="M911.1 520.0L911.1 403.9L918.1 403.9L919.5 424.2L925.9 424.2L925.9 520.0"/>
<path class="g" d="M870.8 520.0L870.8 428.0L873.5 421.1L876.0 428.0L876.0 520.0"/>
<path class="g" d="M942.8 520.0L942.8 435.9L946.2 435.9L946.6 470.0L950.0 470.0L950.0 520.0"/>
<path class="g" d="M1023.1 650.0L1023.1 412.5L1027.5 412.5L1027.5 650.0"/>
<path class="g" d="M1015.0 640.0L1015.0 575.0"/>
<path class="g" d="M598.1 700.0L598.1 542.5L606.0 542.5L606.0 735.0"/>
<path class="g" d="M598.1 555.6L606.0 555.6"/>
<path class="g" d="M590.6 700.0L590.6 631.9L598.1 631.9"/>
<path class="g" d="M301.9 700.0L301.9 563.8L309.8 563.8L309.8 640.0"/>
<path class="g" d="M318.0 650.0L318.0 580.0L325.6 580.0L325.6 690.0"/>
<path d="M295.3 734.3H300.5" fill="none" stroke="#000" stroke-width="2"/>
<path d="M299.5 734.3V690" fill="none" stroke="#000" stroke-width="2" stroke-dasharray="5 2.5"/>
<path d="M299.5 690V640.9" fill="none" stroke="#000" stroke-width="1.2"/>
<path d="M304.3 641.9H308.1" fill="none" stroke="#000" stroke-width="2"/>
<path d="M319.5 641.9H321M322.9 641.9H324.3M326.7 641.9H329.5" fill="none" stroke="#000" stroke-width="2"/>
<path d="M331.9 641.9V687" fill="none" stroke="#000" stroke-width="1.2"/>
<path d="M351.9 714.3H356.7" fill="none" stroke="#000" stroke-width="2"/>
<path d="M399.6 714.3H405" fill="none" stroke="#000" stroke-width="2"/>
<path d="M424.7 714.3H433.8" fill="none" stroke="#000" stroke-width="2"/>
<path d="M432.8 714.3V739.7" fill="none" stroke="#000" stroke-width="2" stroke-dasharray="2.5 2"/>
<path d="M432.8 739.7H437" fill="none" stroke="#000" stroke-width="2"/>
<path d="M503.6 688.4H506.6M586.8 688.4H589.8" fill="none" stroke="#000" stroke-width="2"/>
<path d="M607.4 738.9H613.4" fill="none" stroke="#000" stroke-width="1.2"/>
<path d="M647.6 735.8V738.8" fill="none" stroke="#000" stroke-width="2"/>
<path d="M864.2 664V525.7" fill="none" stroke="#000" stroke-width="1.6"/>
<path d="M864.2 526.7H976.6" fill="none" stroke="#000" stroke-width="2" stroke-dasharray="5.5 2.5"/>
<path d="M976.6 525.7V640" fill="none" stroke="#000" stroke-width="1.6"/>
<path d="M976.6 640V711.9" fill="none" stroke="#000" stroke-width="1.2" stroke-dasharray="4 2 1.5 2"/>
<path d="M975.6 711.9H996.4" fill="none" stroke="#000" stroke-width="2" stroke-dasharray="5 2.5"/>
<path d="M996.4 711.9V627.9" fill="none" stroke="#000" stroke-width="1.0" stroke-dasharray="3 2 1.5 2"/>
<path d="M995.4 627.9H1028.4" fill="none" stroke="#000" stroke-width="2" stroke-dasharray="5 2.3"/>
<path d="M1028.4 627.9V699" fill="none" stroke="#000" stroke-width="1.0" stroke-dasharray="3 2 1.5 2"/>
<path d="M1028.4 699V733.75" fill="none" stroke="#000" stroke-width="1.4"/>
<path d="M198.4 731.4H213.5V731.9H229.9V729.2H246.2V732.9H269.3V732.5H278.2V733.6H295.0V721.4H301.8V688.2H310.0V621.5H317.8V598.5H326.3V678.0H329.6V738.3H351.2V723.4H358.0V722.5H366.0V712.0H370.2V710.6H374.3V716.0H382.4V718.7H389.5V712.9H397.6V696.3H401.7V707.2H413.9V711.9H422.0V723.4H426.0V727.5H430.1V732.2H437.5V739.7H454.5V688.9H461.2V685.5H470.0V692.3H474.1V689.3H480.2V692.3H485.6V696.1H491.0V693.0H495.1V688.2H501.9V691.5H510.0V692.9H519.0V696.6H523.3V695.1H526.2V697.0H536.5V695.8H543.8V697.3H548.1V695.8H554.0V700.9H557.6V689.7H562.0V692.2H570.0V694.4H574.4V695.8H581.7V711.9H589.7V704.6H597.0V688.3H606.2V716.3H609.7V727.9H614.5V738.3H646.0V731.3H674.4V731.6H695.2V730.3H710.1V727.3H730.0V726.5H750.3V729.9H757.7V737.3H762.9V698.6H766.0V729.1H774.9V726.9H783.0V725.4H790.5V726.2H798.8V727.5H806.2V728.8H822.5V726.9H837.5V718.8H855.0V733.8H862.5V661.8H866.8V642.0H870.4V518.6H874.1V523.0H877.0V504.8H881.4V498.2H885.7V485.8H889.4V482.2H893.8V507.0H898.9V500.4H901.8V525.2H909.8V519.4H914.2V483.6H918.5V509.2H926.6V543.4H930.2V548.0H934.6V533.2H942.6V530.3H950.6V534.0H958.6V521.6H962.3V507.7H966.7V574.0H974.5V636.1H982.7V692.9H990.6V697.3H995.0V692.9H998.6V667.5H1006.7V662.3H1014.7V651.4H1022.7V668.9H1027.1V679.1H1030.7V733.0H1047.0V733.8H1062.0V732.4H1071.0V733.5H1077.0V733.8H1094.0V733.2H1111.0V734.5H1119.0V732.5H1124.0V735.3H1142.5V731.9H1159.7V734.2H1174.5V733.8H1182.0V732.2H1207.3V734.0H1222.4" fill="none" stroke="#DF536B" stroke-width="2.8" stroke-linejoin="round" stroke-linecap="round"/>
<path d="M198.4 735.4H213.5V737.4H222.4V734.4H229.9V739.3H238.0V734.4H246.2V732.5H269.3V734.0H278.2V731.2H294.4V708.5H302.3V602.5H306.2V612.5H309.8V652.3H314.0V643.5H317.2V627.5H322.2V655.0H325.5V663.6H329.6V734.3H349.9V725.5H358.0V721.0H366.4V715.0H373.6V718.0H381.0V717.0H389.8V722.8H405.7V718.7H414.5V720.7H422.0V715.6H430.0V730.2H438.2V737.0H446.3V738.3H453.8V665.9H461.9V663.2H478.2V657.8H485.6V686.9H497.8V684.8H502.2V690.0H509.5V702.4H513.9V698.8H518.2V667.4H526.2V683.4H534.3V699.9H541.6V703.1H546.0V701.7H550.3V683.4H566.4V642.2H570.7V646.2H574.4V636.8H578.0V633.1H582.0V712.6H590.4V711.1H598.4V682.4H605.7V727.9H610.1V731.6H614.5V736.5H629.8V737.3H646.1V730.6H654.0V729.8H662.5V727.9H670.0V726.4H674.4V729.1H686.3V730.6H701.9V728.4H710.1V732.1H733.9V730.6H750.3V728.4H757.7V730.6H766.7V727.3H774.9V729.9H790.5V736.2H798.8V727.5H806.2V732.5H814.4V731.2H822.5V729.4H838.8V723.1H846.9V725.6H854.4V733.8H862.5V665.0H866.2V666.2H870.4V560.4H874.0V558.7H877.7V571.4H886.5V509.9H890.1V528.1H894.5V515.7H902.5V623.9H909.8V656.7H912.0V660.3H918.9V437.7H922.3V575.0H926.6V597.6H934.6V656.7H938.0V655.2H941.9V623.1H946.0V625.3H950.6V613.6H958.6V610.0H963.0V611.5H966.7V607.4H970.3V612.2H974.3V661.3H978.2V672.3H982.6V703.1H990.6V684.2H998.6V671.0H1006.7V653.8H1022.7V694.4H1026.4V698.0H1030.7V734.5H1047.2V736.9H1062.8V735.3H1071.4V732.2H1076.9V734.2H1080.0V736.1H1094.8V733.5H1111.2V731.4H1119.0V735.0H1135.5V732.5H1139.4V733.0H1159.7V730.9H1165.9V731.9H1174.5V734.5H1191.7V735.3H1207.3V732.2H1222.4" fill="none" stroke="#2297E6" stroke-width="2.8" stroke-linejoin="round" stroke-linecap="round"/>
<g stroke="#000" stroke-width="2" fill="none" stroke-linecap="round"><rect x="157.44" y="157.44" width="1105.9199999999998" height="606.72"/><path d="M197.40 764.16H1198.38"/><path d="M197.40 764.16v19.2"/><path d="M397.60 764.16v19.2"/><path d="M597.79 764.16v19.2"/><path d="M797.99 764.16v19.2"/><path d="M998.18 764.16v19.2"/><path d="M1198.38 764.16v19.2"/><path d="M157.44 741.45V204.45"/><path d="M157.44 741.45h-19.2"/><path d="M157.44 634.05h-19.2"/><path d="M157.44 526.65h-19.2"/><path d="M157.44 419.25h-19.2"/><path d="M157.44 311.85h-19.2"/><path d="M157.44 204.45h-19.2"/></g>
<text class="t" x="197.40" y="833.3" text-anchor="middle">0</text><text class="t" x="397.60" y="833.3" text-anchor="middle">200</text><text class="t" x="597.79" y="833.3" text-anchor="middle">400</text><text class="t" x="797.99" y="833.3" text-anchor="middle">600</text><text class="t" x="998.18" y="833.3" text-anchor="middle">800</text><text class="t" x="1198.38" y="833.3" text-anchor="middle">1000</text><text class="t" transform="translate(111.36 741.45) rotate(-90)" text-anchor="middle">0</text><text class="t" transform="translate(111.36 634.05) rotate(-90)" text-anchor="middle">50</text><text class="t" transform="translate(111.36 526.65) rotate(-90)" text-anchor="middle">100</text><text class="t" transform="translate(111.36 419.25) rotate(-90)" text-anchor="middle">150</text><text class="t" transform="translate(111.36 311.85) rotate(-90)" text-anchor="middle">200</text><text class="t" transform="translate(111.36 204.45) rotate(-90)" text-anchor="middle">250</text><text class="t" transform="translate(34.56 460.80) rotate(-90)" text-anchor="middle">x(median of all runs)</text><text x="710.40" y="91.6" text-anchor="middle" style="font-size:38.4px;font-weight:bold">split_runmed_dwt</text>
<rect x="964.70" y="157.44" width="298.66" height="192" fill="#fff" stroke="#000" stroke-width="2"/><path d="M993.50 195.84h57.6" stroke="#000" stroke-width="2" stroke-linecap="round"/><text class="t" x="1079.90" y="207.14">True mean</text><path d="M993.50 234.24h57.6" stroke="#DF536B" stroke-width="2" stroke-linecap="round"/><text class="t" x="1079.90" y="245.54">best fit</text><path d="M993.50 272.64h57.6" stroke="#2297E6" stroke-width="2" stroke-linecap="round"/><text class="t" x="1079.90" y="283.94">worst fit</text><path d="M993.50 311.04h57.6" stroke="#cccccc" stroke-width="2" stroke-linecap="round"/><text class="t" x="1079.90" y="322.34">all others</text>
</svg></body></html>
